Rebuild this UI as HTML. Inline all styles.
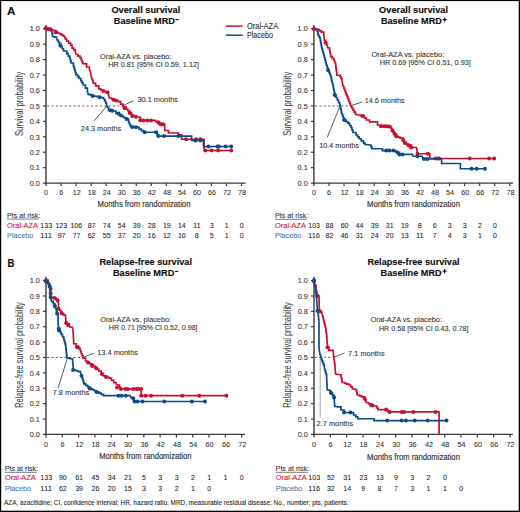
<!DOCTYPE html><html><head><meta charset="utf-8"><style>html,body{margin:0;padding:0;background:#fff;overflow:hidden}svg{display:block}text{font-family:"Liberation Sans",sans-serif}</style></head><body>
<svg width="520" height="512" viewBox="0 0 520 512">
<rect x="0" y="0" width="520" height="512" fill="#fff"/>
<text x="7.00" y="14.80" font-size="11" font-weight="bold" fill="#111" text-anchor="start" stroke="#111" stroke-width="0.15" textLength="8.40" lengthAdjust="spacingAndGlyphs">A</text>
<text x="7.60" y="266.70" font-size="11" font-weight="bold" fill="#111" text-anchor="start" stroke="#111" stroke-width="0.15" textLength="6.90" lengthAdjust="spacingAndGlyphs">B</text>
<text x="111.40" y="13.20" font-size="9.5" font-weight="bold" fill="#111" text-anchor="start" stroke="#111" stroke-width="0.15" textLength="68.90" lengthAdjust="spacingAndGlyphs">Overall survival</text>
<text x="113.85" y="24.40" font-size="9.5" font-weight="bold" fill="#111" text-anchor="start" stroke="#111" stroke-width="0.15" textLength="61.00" lengthAdjust="spacingAndGlyphs">Baseline MRD</text>
<rect x="175.40" y="19.05" width="3.2" height="1.1" fill="#111"/>
<text x="379.10" y="13.20" font-size="9.5" font-weight="bold" fill="#111" text-anchor="start" stroke="#111" stroke-width="0.15" textLength="68.90" lengthAdjust="spacingAndGlyphs">Overall survival</text>
<text x="380.90" y="24.20" font-size="9.5" font-weight="bold" fill="#111" text-anchor="start" stroke="#111" stroke-width="0.15" textLength="61.00" lengthAdjust="spacingAndGlyphs">Baseline MRD</text>
<rect x="442.60" y="19.00" width="4" height="1.2" fill="#111"/>
<rect x="444.00" y="17.50" width="1.2" height="4.2" fill="#111"/>
<text x="99.40" y="264.90" font-size="9.5" font-weight="bold" fill="#111" text-anchor="start" stroke="#111" stroke-width="0.15" textLength="92.60" lengthAdjust="spacingAndGlyphs">Relapse-free survival</text>
<text x="112.90" y="275.90" font-size="9.5" font-weight="bold" fill="#111" text-anchor="start" stroke="#111" stroke-width="0.15" textLength="61.40" lengthAdjust="spacingAndGlyphs">Baseline MRD</text>
<rect x="175.10" y="270.85" width="3.2" height="1.1" fill="#111"/>
<text x="367.40" y="264.90" font-size="9.5" font-weight="bold" fill="#111" text-anchor="start" stroke="#111" stroke-width="0.15" textLength="92.20" lengthAdjust="spacingAndGlyphs">Relapse-free survival</text>
<text x="380.60" y="275.90" font-size="9.5" font-weight="bold" fill="#111" text-anchor="start" stroke="#111" stroke-width="0.15" textLength="61.10" lengthAdjust="spacingAndGlyphs">Baseline MRD</text>
<rect x="442.60" y="270.60" width="4" height="1.2" fill="#111"/>
<rect x="444.00" y="269.10" width="1.2" height="4.2" fill="#111"/>
<line x1="225.7" y1="26.1" x2="242.6" y2="26.1" stroke="#c8112f" stroke-width="1.5"/>
<line x1="225.7" y1="35.2" x2="242.6" y2="35.2" stroke="#0b4b89" stroke-width="1.5"/>
<text x="246.90" y="28.60" font-size="8.2" font-weight="normal" fill="#333" text-anchor="start" stroke="#333" stroke-width="0.1" textLength="31.30" lengthAdjust="spacingAndGlyphs">Oral-AZA</text>
<text x="246.90" y="37.80" font-size="8.2" font-weight="normal" fill="#333" text-anchor="start" stroke="#333" stroke-width="0.1" textLength="26.10" lengthAdjust="spacingAndGlyphs">Placebo</text>
<line x1="46.0" y1="25.0" x2="46.0" y2="183.79999999999998" stroke="#3a3a3a" stroke-width="1.4"/>
<line x1="45.3" y1="183.1" x2="245.6" y2="183.1" stroke="#3a3a3a" stroke-width="1.4"/>
<line x1="43.0" y1="183.10" x2="46.0" y2="183.10" stroke="#3a3a3a" stroke-width="1.2"/>
<text x="39.80" y="185.80" font-size="8.1" font-weight="normal" fill="#2b2b2b" text-anchor="end" stroke="#2b2b2b" stroke-width="0.06" textLength="10.10" lengthAdjust="spacingAndGlyphs">0.0</text>
<line x1="43.0" y1="167.66" x2="46.0" y2="167.66" stroke="#3a3a3a" stroke-width="1.2"/>
<text x="39.80" y="170.36" font-size="8.1" font-weight="normal" fill="#2b2b2b" text-anchor="end" stroke="#2b2b2b" stroke-width="0.06" textLength="10.10" lengthAdjust="spacingAndGlyphs">0.1</text>
<line x1="43.0" y1="152.23" x2="46.0" y2="152.23" stroke="#3a3a3a" stroke-width="1.2"/>
<text x="39.80" y="154.93" font-size="8.1" font-weight="normal" fill="#2b2b2b" text-anchor="end" stroke="#2b2b2b" stroke-width="0.06" textLength="10.10" lengthAdjust="spacingAndGlyphs">0.2</text>
<line x1="43.0" y1="136.80" x2="46.0" y2="136.80" stroke="#3a3a3a" stroke-width="1.2"/>
<text x="39.80" y="139.50" font-size="8.1" font-weight="normal" fill="#2b2b2b" text-anchor="end" stroke="#2b2b2b" stroke-width="0.06" textLength="10.10" lengthAdjust="spacingAndGlyphs">0.3</text>
<line x1="43.0" y1="121.36" x2="46.0" y2="121.36" stroke="#3a3a3a" stroke-width="1.2"/>
<text x="39.80" y="124.06" font-size="8.1" font-weight="normal" fill="#2b2b2b" text-anchor="end" stroke="#2b2b2b" stroke-width="0.06" textLength="10.10" lengthAdjust="spacingAndGlyphs">0.4</text>
<line x1="43.0" y1="105.92" x2="46.0" y2="105.92" stroke="#3a3a3a" stroke-width="1.2"/>
<text x="39.80" y="108.62" font-size="8.1" font-weight="normal" fill="#2b2b2b" text-anchor="end" stroke="#2b2b2b" stroke-width="0.06" textLength="10.10" lengthAdjust="spacingAndGlyphs">0.5</text>
<line x1="43.0" y1="90.49" x2="46.0" y2="90.49" stroke="#3a3a3a" stroke-width="1.2"/>
<text x="39.80" y="93.19" font-size="8.1" font-weight="normal" fill="#2b2b2b" text-anchor="end" stroke="#2b2b2b" stroke-width="0.06" textLength="10.10" lengthAdjust="spacingAndGlyphs">0.6</text>
<line x1="43.0" y1="75.06" x2="46.0" y2="75.06" stroke="#3a3a3a" stroke-width="1.2"/>
<text x="39.80" y="77.76" font-size="8.1" font-weight="normal" fill="#2b2b2b" text-anchor="end" stroke="#2b2b2b" stroke-width="0.06" textLength="10.10" lengthAdjust="spacingAndGlyphs">0.7</text>
<line x1="43.0" y1="59.62" x2="46.0" y2="59.62" stroke="#3a3a3a" stroke-width="1.2"/>
<text x="39.80" y="62.32" font-size="8.1" font-weight="normal" fill="#2b2b2b" text-anchor="end" stroke="#2b2b2b" stroke-width="0.06" textLength="10.10" lengthAdjust="spacingAndGlyphs">0.8</text>
<line x1="43.0" y1="44.19" x2="46.0" y2="44.19" stroke="#3a3a3a" stroke-width="1.2"/>
<text x="39.80" y="46.89" font-size="8.1" font-weight="normal" fill="#2b2b2b" text-anchor="end" stroke="#2b2b2b" stroke-width="0.06" textLength="10.10" lengthAdjust="spacingAndGlyphs">0.9</text>
<line x1="43.0" y1="28.75" x2="46.0" y2="28.75" stroke="#3a3a3a" stroke-width="1.2"/>
<text x="39.80" y="31.45" font-size="8.1" font-weight="normal" fill="#2b2b2b" text-anchor="end" stroke="#2b2b2b" stroke-width="0.06" textLength="10.10" lengthAdjust="spacingAndGlyphs">1.0</text>
<line x1="46.00" y1="183.1" x2="46.00" y2="186.1" stroke="#3a3a3a" stroke-width="1.2"/>
<line x1="61.04" y1="183.1" x2="61.04" y2="186.1" stroke="#3a3a3a" stroke-width="1.2"/>
<line x1="76.08" y1="183.1" x2="76.08" y2="186.1" stroke="#3a3a3a" stroke-width="1.2"/>
<line x1="91.12" y1="183.1" x2="91.12" y2="186.1" stroke="#3a3a3a" stroke-width="1.2"/>
<line x1="106.15" y1="183.1" x2="106.15" y2="186.1" stroke="#3a3a3a" stroke-width="1.2"/>
<line x1="121.19" y1="183.1" x2="121.19" y2="186.1" stroke="#3a3a3a" stroke-width="1.2"/>
<line x1="136.23" y1="183.1" x2="136.23" y2="186.1" stroke="#3a3a3a" stroke-width="1.2"/>
<line x1="151.27" y1="183.1" x2="151.27" y2="186.1" stroke="#3a3a3a" stroke-width="1.2"/>
<line x1="166.31" y1="183.1" x2="166.31" y2="186.1" stroke="#3a3a3a" stroke-width="1.2"/>
<line x1="181.35" y1="183.1" x2="181.35" y2="186.1" stroke="#3a3a3a" stroke-width="1.2"/>
<line x1="196.38" y1="183.1" x2="196.38" y2="186.1" stroke="#3a3a3a" stroke-width="1.2"/>
<line x1="211.42" y1="183.1" x2="211.42" y2="186.1" stroke="#3a3a3a" stroke-width="1.2"/>
<line x1="226.46" y1="183.1" x2="226.46" y2="186.1" stroke="#3a3a3a" stroke-width="1.2"/>
<line x1="241.50" y1="183.1" x2="241.50" y2="186.1" stroke="#3a3a3a" stroke-width="1.2"/>
<line x1="313.9" y1="25.0" x2="313.9" y2="183.79999999999998" stroke="#3a3a3a" stroke-width="1.4"/>
<line x1="313.2" y1="183.1" x2="512.9" y2="183.1" stroke="#3a3a3a" stroke-width="1.4"/>
<line x1="310.9" y1="183.10" x2="313.9" y2="183.10" stroke="#3a3a3a" stroke-width="1.2"/>
<text x="307.70" y="185.80" font-size="8.1" font-weight="normal" fill="#2b2b2b" text-anchor="end" stroke="#2b2b2b" stroke-width="0.06" textLength="10.10" lengthAdjust="spacingAndGlyphs">0.0</text>
<line x1="310.9" y1="167.66" x2="313.9" y2="167.66" stroke="#3a3a3a" stroke-width="1.2"/>
<text x="307.70" y="170.36" font-size="8.1" font-weight="normal" fill="#2b2b2b" text-anchor="end" stroke="#2b2b2b" stroke-width="0.06" textLength="10.10" lengthAdjust="spacingAndGlyphs">0.1</text>
<line x1="310.9" y1="152.23" x2="313.9" y2="152.23" stroke="#3a3a3a" stroke-width="1.2"/>
<text x="307.70" y="154.93" font-size="8.1" font-weight="normal" fill="#2b2b2b" text-anchor="end" stroke="#2b2b2b" stroke-width="0.06" textLength="10.10" lengthAdjust="spacingAndGlyphs">0.2</text>
<line x1="310.9" y1="136.80" x2="313.9" y2="136.80" stroke="#3a3a3a" stroke-width="1.2"/>
<text x="307.70" y="139.50" font-size="8.1" font-weight="normal" fill="#2b2b2b" text-anchor="end" stroke="#2b2b2b" stroke-width="0.06" textLength="10.10" lengthAdjust="spacingAndGlyphs">0.3</text>
<line x1="310.9" y1="121.36" x2="313.9" y2="121.36" stroke="#3a3a3a" stroke-width="1.2"/>
<text x="307.70" y="124.06" font-size="8.1" font-weight="normal" fill="#2b2b2b" text-anchor="end" stroke="#2b2b2b" stroke-width="0.06" textLength="10.10" lengthAdjust="spacingAndGlyphs">0.4</text>
<line x1="310.9" y1="105.92" x2="313.9" y2="105.92" stroke="#3a3a3a" stroke-width="1.2"/>
<text x="307.70" y="108.62" font-size="8.1" font-weight="normal" fill="#2b2b2b" text-anchor="end" stroke="#2b2b2b" stroke-width="0.06" textLength="10.10" lengthAdjust="spacingAndGlyphs">0.5</text>
<line x1="310.9" y1="90.49" x2="313.9" y2="90.49" stroke="#3a3a3a" stroke-width="1.2"/>
<text x="307.70" y="93.19" font-size="8.1" font-weight="normal" fill="#2b2b2b" text-anchor="end" stroke="#2b2b2b" stroke-width="0.06" textLength="10.10" lengthAdjust="spacingAndGlyphs">0.6</text>
<line x1="310.9" y1="75.06" x2="313.9" y2="75.06" stroke="#3a3a3a" stroke-width="1.2"/>
<text x="307.70" y="77.76" font-size="8.1" font-weight="normal" fill="#2b2b2b" text-anchor="end" stroke="#2b2b2b" stroke-width="0.06" textLength="10.10" lengthAdjust="spacingAndGlyphs">0.7</text>
<line x1="310.9" y1="59.62" x2="313.9" y2="59.62" stroke="#3a3a3a" stroke-width="1.2"/>
<text x="307.70" y="62.32" font-size="8.1" font-weight="normal" fill="#2b2b2b" text-anchor="end" stroke="#2b2b2b" stroke-width="0.06" textLength="10.10" lengthAdjust="spacingAndGlyphs">0.8</text>
<line x1="310.9" y1="44.19" x2="313.9" y2="44.19" stroke="#3a3a3a" stroke-width="1.2"/>
<text x="307.70" y="46.89" font-size="8.1" font-weight="normal" fill="#2b2b2b" text-anchor="end" stroke="#2b2b2b" stroke-width="0.06" textLength="10.10" lengthAdjust="spacingAndGlyphs">0.9</text>
<line x1="310.9" y1="28.75" x2="313.9" y2="28.75" stroke="#3a3a3a" stroke-width="1.2"/>
<text x="307.70" y="31.45" font-size="8.1" font-weight="normal" fill="#2b2b2b" text-anchor="end" stroke="#2b2b2b" stroke-width="0.06" textLength="10.10" lengthAdjust="spacingAndGlyphs">1.0</text>
<line x1="313.90" y1="183.1" x2="313.90" y2="186.1" stroke="#3a3a3a" stroke-width="1.2"/>
<line x1="328.97" y1="183.1" x2="328.97" y2="186.1" stroke="#3a3a3a" stroke-width="1.2"/>
<line x1="344.04" y1="183.1" x2="344.04" y2="186.1" stroke="#3a3a3a" stroke-width="1.2"/>
<line x1="359.11" y1="183.1" x2="359.11" y2="186.1" stroke="#3a3a3a" stroke-width="1.2"/>
<line x1="374.18" y1="183.1" x2="374.18" y2="186.1" stroke="#3a3a3a" stroke-width="1.2"/>
<line x1="389.25" y1="183.1" x2="389.25" y2="186.1" stroke="#3a3a3a" stroke-width="1.2"/>
<line x1="404.32" y1="183.1" x2="404.32" y2="186.1" stroke="#3a3a3a" stroke-width="1.2"/>
<line x1="419.38" y1="183.1" x2="419.38" y2="186.1" stroke="#3a3a3a" stroke-width="1.2"/>
<line x1="434.45" y1="183.1" x2="434.45" y2="186.1" stroke="#3a3a3a" stroke-width="1.2"/>
<line x1="449.52" y1="183.1" x2="449.52" y2="186.1" stroke="#3a3a3a" stroke-width="1.2"/>
<line x1="464.59" y1="183.1" x2="464.59" y2="186.1" stroke="#3a3a3a" stroke-width="1.2"/>
<line x1="479.66" y1="183.1" x2="479.66" y2="186.1" stroke="#3a3a3a" stroke-width="1.2"/>
<line x1="494.73" y1="183.1" x2="494.73" y2="186.1" stroke="#3a3a3a" stroke-width="1.2"/>
<line x1="509.80" y1="183.1" x2="509.80" y2="186.1" stroke="#3a3a3a" stroke-width="1.2"/>
<line x1="46.0" y1="276.8" x2="46.0" y2="435.09999999999997" stroke="#3a3a3a" stroke-width="1.4"/>
<line x1="45.3" y1="434.4" x2="245.0" y2="434.4" stroke="#3a3a3a" stroke-width="1.4"/>
<line x1="43.0" y1="434.40" x2="46.0" y2="434.40" stroke="#3a3a3a" stroke-width="1.2"/>
<text x="39.80" y="437.10" font-size="8.1" font-weight="normal" fill="#2b2b2b" text-anchor="end" stroke="#2b2b2b" stroke-width="0.06" textLength="10.10" lengthAdjust="spacingAndGlyphs">0.0</text>
<line x1="43.0" y1="419.02" x2="46.0" y2="419.02" stroke="#3a3a3a" stroke-width="1.2"/>
<text x="39.80" y="421.72" font-size="8.1" font-weight="normal" fill="#2b2b2b" text-anchor="end" stroke="#2b2b2b" stroke-width="0.06" textLength="10.10" lengthAdjust="spacingAndGlyphs">0.1</text>
<line x1="43.0" y1="403.64" x2="46.0" y2="403.64" stroke="#3a3a3a" stroke-width="1.2"/>
<text x="39.80" y="406.34" font-size="8.1" font-weight="normal" fill="#2b2b2b" text-anchor="end" stroke="#2b2b2b" stroke-width="0.06" textLength="10.10" lengthAdjust="spacingAndGlyphs">0.2</text>
<line x1="43.0" y1="388.26" x2="46.0" y2="388.26" stroke="#3a3a3a" stroke-width="1.2"/>
<text x="39.80" y="390.96" font-size="8.1" font-weight="normal" fill="#2b2b2b" text-anchor="end" stroke="#2b2b2b" stroke-width="0.06" textLength="10.10" lengthAdjust="spacingAndGlyphs">0.3</text>
<line x1="43.0" y1="372.88" x2="46.0" y2="372.88" stroke="#3a3a3a" stroke-width="1.2"/>
<text x="39.80" y="375.58" font-size="8.1" font-weight="normal" fill="#2b2b2b" text-anchor="end" stroke="#2b2b2b" stroke-width="0.06" textLength="10.10" lengthAdjust="spacingAndGlyphs">0.4</text>
<line x1="43.0" y1="357.50" x2="46.0" y2="357.50" stroke="#3a3a3a" stroke-width="1.2"/>
<text x="39.80" y="360.20" font-size="8.1" font-weight="normal" fill="#2b2b2b" text-anchor="end" stroke="#2b2b2b" stroke-width="0.06" textLength="10.10" lengthAdjust="spacingAndGlyphs">0.5</text>
<line x1="43.0" y1="342.12" x2="46.0" y2="342.12" stroke="#3a3a3a" stroke-width="1.2"/>
<text x="39.80" y="344.82" font-size="8.1" font-weight="normal" fill="#2b2b2b" text-anchor="end" stroke="#2b2b2b" stroke-width="0.06" textLength="10.10" lengthAdjust="spacingAndGlyphs">0.6</text>
<line x1="43.0" y1="326.74" x2="46.0" y2="326.74" stroke="#3a3a3a" stroke-width="1.2"/>
<text x="39.80" y="329.44" font-size="8.1" font-weight="normal" fill="#2b2b2b" text-anchor="end" stroke="#2b2b2b" stroke-width="0.06" textLength="10.10" lengthAdjust="spacingAndGlyphs">0.7</text>
<line x1="43.0" y1="311.36" x2="46.0" y2="311.36" stroke="#3a3a3a" stroke-width="1.2"/>
<text x="39.80" y="314.06" font-size="8.1" font-weight="normal" fill="#2b2b2b" text-anchor="end" stroke="#2b2b2b" stroke-width="0.06" textLength="10.10" lengthAdjust="spacingAndGlyphs">0.8</text>
<line x1="43.0" y1="295.98" x2="46.0" y2="295.98" stroke="#3a3a3a" stroke-width="1.2"/>
<text x="39.80" y="298.68" font-size="8.1" font-weight="normal" fill="#2b2b2b" text-anchor="end" stroke="#2b2b2b" stroke-width="0.06" textLength="10.10" lengthAdjust="spacingAndGlyphs">0.9</text>
<line x1="43.0" y1="280.60" x2="46.0" y2="280.60" stroke="#3a3a3a" stroke-width="1.2"/>
<text x="39.80" y="283.30" font-size="8.1" font-weight="normal" fill="#2b2b2b" text-anchor="end" stroke="#2b2b2b" stroke-width="0.06" textLength="10.10" lengthAdjust="spacingAndGlyphs">1.0</text>
<line x1="46.00" y1="434.4" x2="46.00" y2="437.4" stroke="#3a3a3a" stroke-width="1.2"/>
<line x1="62.30" y1="434.4" x2="62.30" y2="437.4" stroke="#3a3a3a" stroke-width="1.2"/>
<line x1="78.60" y1="434.4" x2="78.60" y2="437.4" stroke="#3a3a3a" stroke-width="1.2"/>
<line x1="94.90" y1="434.4" x2="94.90" y2="437.4" stroke="#3a3a3a" stroke-width="1.2"/>
<line x1="111.20" y1="434.4" x2="111.20" y2="437.4" stroke="#3a3a3a" stroke-width="1.2"/>
<line x1="127.50" y1="434.4" x2="127.50" y2="437.4" stroke="#3a3a3a" stroke-width="1.2"/>
<line x1="143.80" y1="434.4" x2="143.80" y2="437.4" stroke="#3a3a3a" stroke-width="1.2"/>
<line x1="160.10" y1="434.4" x2="160.10" y2="437.4" stroke="#3a3a3a" stroke-width="1.2"/>
<line x1="176.40" y1="434.4" x2="176.40" y2="437.4" stroke="#3a3a3a" stroke-width="1.2"/>
<line x1="192.70" y1="434.4" x2="192.70" y2="437.4" stroke="#3a3a3a" stroke-width="1.2"/>
<line x1="209.00" y1="434.4" x2="209.00" y2="437.4" stroke="#3a3a3a" stroke-width="1.2"/>
<line x1="225.30" y1="434.4" x2="225.30" y2="437.4" stroke="#3a3a3a" stroke-width="1.2"/>
<line x1="241.60" y1="434.4" x2="241.60" y2="437.4" stroke="#3a3a3a" stroke-width="1.2"/>
<line x1="314.0" y1="276.8" x2="314.0" y2="435.09999999999997" stroke="#3a3a3a" stroke-width="1.4"/>
<line x1="313.3" y1="434.4" x2="512.9" y2="434.4" stroke="#3a3a3a" stroke-width="1.4"/>
<line x1="311.0" y1="434.40" x2="314.0" y2="434.40" stroke="#3a3a3a" stroke-width="1.2"/>
<text x="307.80" y="437.10" font-size="8.1" font-weight="normal" fill="#2b2b2b" text-anchor="end" stroke="#2b2b2b" stroke-width="0.06" textLength="10.10" lengthAdjust="spacingAndGlyphs">0.0</text>
<line x1="311.0" y1="419.02" x2="314.0" y2="419.02" stroke="#3a3a3a" stroke-width="1.2"/>
<text x="307.80" y="421.72" font-size="8.1" font-weight="normal" fill="#2b2b2b" text-anchor="end" stroke="#2b2b2b" stroke-width="0.06" textLength="10.10" lengthAdjust="spacingAndGlyphs">0.1</text>
<line x1="311.0" y1="403.64" x2="314.0" y2="403.64" stroke="#3a3a3a" stroke-width="1.2"/>
<text x="307.80" y="406.34" font-size="8.1" font-weight="normal" fill="#2b2b2b" text-anchor="end" stroke="#2b2b2b" stroke-width="0.06" textLength="10.10" lengthAdjust="spacingAndGlyphs">0.2</text>
<line x1="311.0" y1="388.26" x2="314.0" y2="388.26" stroke="#3a3a3a" stroke-width="1.2"/>
<text x="307.80" y="390.96" font-size="8.1" font-weight="normal" fill="#2b2b2b" text-anchor="end" stroke="#2b2b2b" stroke-width="0.06" textLength="10.10" lengthAdjust="spacingAndGlyphs">0.3</text>
<line x1="311.0" y1="372.88" x2="314.0" y2="372.88" stroke="#3a3a3a" stroke-width="1.2"/>
<text x="307.80" y="375.58" font-size="8.1" font-weight="normal" fill="#2b2b2b" text-anchor="end" stroke="#2b2b2b" stroke-width="0.06" textLength="10.10" lengthAdjust="spacingAndGlyphs">0.4</text>
<line x1="311.0" y1="357.50" x2="314.0" y2="357.50" stroke="#3a3a3a" stroke-width="1.2"/>
<text x="307.80" y="360.20" font-size="8.1" font-weight="normal" fill="#2b2b2b" text-anchor="end" stroke="#2b2b2b" stroke-width="0.06" textLength="10.10" lengthAdjust="spacingAndGlyphs">0.5</text>
<line x1="311.0" y1="342.12" x2="314.0" y2="342.12" stroke="#3a3a3a" stroke-width="1.2"/>
<text x="307.80" y="344.82" font-size="8.1" font-weight="normal" fill="#2b2b2b" text-anchor="end" stroke="#2b2b2b" stroke-width="0.06" textLength="10.10" lengthAdjust="spacingAndGlyphs">0.6</text>
<line x1="311.0" y1="326.74" x2="314.0" y2="326.74" stroke="#3a3a3a" stroke-width="1.2"/>
<text x="307.80" y="329.44" font-size="8.1" font-weight="normal" fill="#2b2b2b" text-anchor="end" stroke="#2b2b2b" stroke-width="0.06" textLength="10.10" lengthAdjust="spacingAndGlyphs">0.7</text>
<line x1="311.0" y1="311.36" x2="314.0" y2="311.36" stroke="#3a3a3a" stroke-width="1.2"/>
<text x="307.80" y="314.06" font-size="8.1" font-weight="normal" fill="#2b2b2b" text-anchor="end" stroke="#2b2b2b" stroke-width="0.06" textLength="10.10" lengthAdjust="spacingAndGlyphs">0.8</text>
<line x1="311.0" y1="295.98" x2="314.0" y2="295.98" stroke="#3a3a3a" stroke-width="1.2"/>
<text x="307.80" y="298.68" font-size="8.1" font-weight="normal" fill="#2b2b2b" text-anchor="end" stroke="#2b2b2b" stroke-width="0.06" textLength="10.10" lengthAdjust="spacingAndGlyphs">0.9</text>
<line x1="311.0" y1="280.60" x2="314.0" y2="280.60" stroke="#3a3a3a" stroke-width="1.2"/>
<text x="307.80" y="283.30" font-size="8.1" font-weight="normal" fill="#2b2b2b" text-anchor="end" stroke="#2b2b2b" stroke-width="0.06" textLength="10.10" lengthAdjust="spacingAndGlyphs">1.0</text>
<line x1="314.00" y1="434.4" x2="314.00" y2="437.4" stroke="#3a3a3a" stroke-width="1.2"/>
<line x1="330.33" y1="434.4" x2="330.33" y2="437.4" stroke="#3a3a3a" stroke-width="1.2"/>
<line x1="346.67" y1="434.4" x2="346.67" y2="437.4" stroke="#3a3a3a" stroke-width="1.2"/>
<line x1="363.00" y1="434.4" x2="363.00" y2="437.4" stroke="#3a3a3a" stroke-width="1.2"/>
<line x1="379.33" y1="434.4" x2="379.33" y2="437.4" stroke="#3a3a3a" stroke-width="1.2"/>
<line x1="395.67" y1="434.4" x2="395.67" y2="437.4" stroke="#3a3a3a" stroke-width="1.2"/>
<line x1="412.00" y1="434.4" x2="412.00" y2="437.4" stroke="#3a3a3a" stroke-width="1.2"/>
<line x1="428.33" y1="434.4" x2="428.33" y2="437.4" stroke="#3a3a3a" stroke-width="1.2"/>
<line x1="444.67" y1="434.4" x2="444.67" y2="437.4" stroke="#3a3a3a" stroke-width="1.2"/>
<line x1="461.00" y1="434.4" x2="461.00" y2="437.4" stroke="#3a3a3a" stroke-width="1.2"/>
<line x1="477.33" y1="434.4" x2="477.33" y2="437.4" stroke="#3a3a3a" stroke-width="1.2"/>
<line x1="493.67" y1="434.4" x2="493.67" y2="437.4" stroke="#3a3a3a" stroke-width="1.2"/>
<line x1="510.00" y1="434.4" x2="510.00" y2="437.4" stroke="#3a3a3a" stroke-width="1.2"/>
<text x="46.10" y="195.10" font-size="8.1" font-weight="normal" fill="#2b2b2b" text-anchor="middle" stroke="#2b2b2b" stroke-width="0.06" textLength="4.00" lengthAdjust="spacingAndGlyphs">0</text>
<text x="61.14" y="195.10" font-size="8.1" font-weight="normal" fill="#2b2b2b" text-anchor="middle" stroke="#2b2b2b" stroke-width="0.06" textLength="4.00" lengthAdjust="spacingAndGlyphs">6</text>
<text x="76.68" y="195.10" font-size="8.1" font-weight="normal" fill="#2b2b2b" text-anchor="middle" stroke="#2b2b2b" stroke-width="0.06" textLength="8.00" lengthAdjust="spacingAndGlyphs">12</text>
<text x="91.72" y="195.10" font-size="8.1" font-weight="normal" fill="#2b2b2b" text-anchor="middle" stroke="#2b2b2b" stroke-width="0.06" textLength="8.00" lengthAdjust="spacingAndGlyphs">18</text>
<text x="106.75" y="195.10" font-size="8.1" font-weight="normal" fill="#2b2b2b" text-anchor="middle" stroke="#2b2b2b" stroke-width="0.06" textLength="8.00" lengthAdjust="spacingAndGlyphs">24</text>
<text x="121.79" y="195.10" font-size="8.1" font-weight="normal" fill="#2b2b2b" text-anchor="middle" stroke="#2b2b2b" stroke-width="0.06" textLength="8.00" lengthAdjust="spacingAndGlyphs">30</text>
<text x="136.83" y="195.10" font-size="8.1" font-weight="normal" fill="#2b2b2b" text-anchor="middle" stroke="#2b2b2b" stroke-width="0.06" textLength="8.00" lengthAdjust="spacingAndGlyphs">36</text>
<text x="151.87" y="195.10" font-size="8.1" font-weight="normal" fill="#2b2b2b" text-anchor="middle" stroke="#2b2b2b" stroke-width="0.06" textLength="8.00" lengthAdjust="spacingAndGlyphs">42</text>
<text x="166.91" y="195.10" font-size="8.1" font-weight="normal" fill="#2b2b2b" text-anchor="middle" stroke="#2b2b2b" stroke-width="0.06" textLength="8.00" lengthAdjust="spacingAndGlyphs">48</text>
<text x="181.95" y="195.10" font-size="8.1" font-weight="normal" fill="#2b2b2b" text-anchor="middle" stroke="#2b2b2b" stroke-width="0.06" textLength="8.00" lengthAdjust="spacingAndGlyphs">54</text>
<text x="196.98" y="195.10" font-size="8.1" font-weight="normal" fill="#2b2b2b" text-anchor="middle" stroke="#2b2b2b" stroke-width="0.06" textLength="8.00" lengthAdjust="spacingAndGlyphs">60</text>
<text x="212.02" y="195.10" font-size="8.1" font-weight="normal" fill="#2b2b2b" text-anchor="middle" stroke="#2b2b2b" stroke-width="0.06" textLength="8.00" lengthAdjust="spacingAndGlyphs">66</text>
<text x="227.06" y="195.10" font-size="8.1" font-weight="normal" fill="#2b2b2b" text-anchor="middle" stroke="#2b2b2b" stroke-width="0.06" textLength="8.00" lengthAdjust="spacingAndGlyphs">72</text>
<text x="242.10" y="195.10" font-size="8.1" font-weight="normal" fill="#2b2b2b" text-anchor="middle" stroke="#2b2b2b" stroke-width="0.06" textLength="8.00" lengthAdjust="spacingAndGlyphs">78</text>
<text x="314.00" y="195.10" font-size="8.1" font-weight="normal" fill="#2b2b2b" text-anchor="middle" stroke="#2b2b2b" stroke-width="0.06" textLength="4.00" lengthAdjust="spacingAndGlyphs">0</text>
<text x="329.07" y="195.10" font-size="8.1" font-weight="normal" fill="#2b2b2b" text-anchor="middle" stroke="#2b2b2b" stroke-width="0.06" textLength="4.00" lengthAdjust="spacingAndGlyphs">6</text>
<text x="344.64" y="195.10" font-size="8.1" font-weight="normal" fill="#2b2b2b" text-anchor="middle" stroke="#2b2b2b" stroke-width="0.06" textLength="8.00" lengthAdjust="spacingAndGlyphs">12</text>
<text x="359.71" y="195.10" font-size="8.1" font-weight="normal" fill="#2b2b2b" text-anchor="middle" stroke="#2b2b2b" stroke-width="0.06" textLength="8.00" lengthAdjust="spacingAndGlyphs">18</text>
<text x="374.78" y="195.10" font-size="8.1" font-weight="normal" fill="#2b2b2b" text-anchor="middle" stroke="#2b2b2b" stroke-width="0.06" textLength="8.00" lengthAdjust="spacingAndGlyphs">24</text>
<text x="389.85" y="195.10" font-size="8.1" font-weight="normal" fill="#2b2b2b" text-anchor="middle" stroke="#2b2b2b" stroke-width="0.06" textLength="8.00" lengthAdjust="spacingAndGlyphs">30</text>
<text x="404.92" y="195.10" font-size="8.1" font-weight="normal" fill="#2b2b2b" text-anchor="middle" stroke="#2b2b2b" stroke-width="0.06" textLength="8.00" lengthAdjust="spacingAndGlyphs">36</text>
<text x="419.98" y="195.10" font-size="8.1" font-weight="normal" fill="#2b2b2b" text-anchor="middle" stroke="#2b2b2b" stroke-width="0.06" textLength="8.00" lengthAdjust="spacingAndGlyphs">42</text>
<text x="435.05" y="195.10" font-size="8.1" font-weight="normal" fill="#2b2b2b" text-anchor="middle" stroke="#2b2b2b" stroke-width="0.06" textLength="8.00" lengthAdjust="spacingAndGlyphs">48</text>
<text x="450.12" y="195.10" font-size="8.1" font-weight="normal" fill="#2b2b2b" text-anchor="middle" stroke="#2b2b2b" stroke-width="0.06" textLength="8.00" lengthAdjust="spacingAndGlyphs">54</text>
<text x="465.19" y="195.10" font-size="8.1" font-weight="normal" fill="#2b2b2b" text-anchor="middle" stroke="#2b2b2b" stroke-width="0.06" textLength="8.00" lengthAdjust="spacingAndGlyphs">60</text>
<text x="480.26" y="195.10" font-size="8.1" font-weight="normal" fill="#2b2b2b" text-anchor="middle" stroke="#2b2b2b" stroke-width="0.06" textLength="8.00" lengthAdjust="spacingAndGlyphs">66</text>
<text x="495.33" y="195.10" font-size="8.1" font-weight="normal" fill="#2b2b2b" text-anchor="middle" stroke="#2b2b2b" stroke-width="0.06" textLength="8.00" lengthAdjust="spacingAndGlyphs">72</text>
<text x="510.40" y="195.10" font-size="8.1" font-weight="normal" fill="#2b2b2b" text-anchor="middle" stroke="#2b2b2b" stroke-width="0.06" textLength="8.00" lengthAdjust="spacingAndGlyphs">78</text>
<text x="46.10" y="446.70" font-size="8.1" font-weight="normal" fill="#2b2b2b" text-anchor="middle" stroke="#2b2b2b" stroke-width="0.06" textLength="4.00" lengthAdjust="spacingAndGlyphs">0</text>
<text x="62.40" y="446.70" font-size="8.1" font-weight="normal" fill="#2b2b2b" text-anchor="middle" stroke="#2b2b2b" stroke-width="0.06" textLength="4.00" lengthAdjust="spacingAndGlyphs">6</text>
<text x="79.20" y="446.70" font-size="8.1" font-weight="normal" fill="#2b2b2b" text-anchor="middle" stroke="#2b2b2b" stroke-width="0.06" textLength="8.00" lengthAdjust="spacingAndGlyphs">12</text>
<text x="95.50" y="446.70" font-size="8.1" font-weight="normal" fill="#2b2b2b" text-anchor="middle" stroke="#2b2b2b" stroke-width="0.06" textLength="8.00" lengthAdjust="spacingAndGlyphs">18</text>
<text x="111.80" y="446.70" font-size="8.1" font-weight="normal" fill="#2b2b2b" text-anchor="middle" stroke="#2b2b2b" stroke-width="0.06" textLength="8.00" lengthAdjust="spacingAndGlyphs">24</text>
<text x="128.10" y="446.70" font-size="8.1" font-weight="normal" fill="#2b2b2b" text-anchor="middle" stroke="#2b2b2b" stroke-width="0.06" textLength="8.00" lengthAdjust="spacingAndGlyphs">30</text>
<text x="144.40" y="446.70" font-size="8.1" font-weight="normal" fill="#2b2b2b" text-anchor="middle" stroke="#2b2b2b" stroke-width="0.06" textLength="8.00" lengthAdjust="spacingAndGlyphs">36</text>
<text x="160.70" y="446.70" font-size="8.1" font-weight="normal" fill="#2b2b2b" text-anchor="middle" stroke="#2b2b2b" stroke-width="0.06" textLength="8.00" lengthAdjust="spacingAndGlyphs">42</text>
<text x="177.00" y="446.70" font-size="8.1" font-weight="normal" fill="#2b2b2b" text-anchor="middle" stroke="#2b2b2b" stroke-width="0.06" textLength="8.00" lengthAdjust="spacingAndGlyphs">48</text>
<text x="193.30" y="446.70" font-size="8.1" font-weight="normal" fill="#2b2b2b" text-anchor="middle" stroke="#2b2b2b" stroke-width="0.06" textLength="8.00" lengthAdjust="spacingAndGlyphs">54</text>
<text x="209.60" y="446.70" font-size="8.1" font-weight="normal" fill="#2b2b2b" text-anchor="middle" stroke="#2b2b2b" stroke-width="0.06" textLength="8.00" lengthAdjust="spacingAndGlyphs">60</text>
<text x="225.90" y="446.70" font-size="8.1" font-weight="normal" fill="#2b2b2b" text-anchor="middle" stroke="#2b2b2b" stroke-width="0.06" textLength="8.00" lengthAdjust="spacingAndGlyphs">66</text>
<text x="242.20" y="446.70" font-size="8.1" font-weight="normal" fill="#2b2b2b" text-anchor="middle" stroke="#2b2b2b" stroke-width="0.06" textLength="8.00" lengthAdjust="spacingAndGlyphs">72</text>
<text x="314.10" y="446.70" font-size="8.1" font-weight="normal" fill="#2b2b2b" text-anchor="middle" stroke="#2b2b2b" stroke-width="0.06" textLength="4.00" lengthAdjust="spacingAndGlyphs">0</text>
<text x="330.43" y="446.70" font-size="8.1" font-weight="normal" fill="#2b2b2b" text-anchor="middle" stroke="#2b2b2b" stroke-width="0.06" textLength="4.00" lengthAdjust="spacingAndGlyphs">6</text>
<text x="347.27" y="446.70" font-size="8.1" font-weight="normal" fill="#2b2b2b" text-anchor="middle" stroke="#2b2b2b" stroke-width="0.06" textLength="8.00" lengthAdjust="spacingAndGlyphs">12</text>
<text x="363.60" y="446.70" font-size="8.1" font-weight="normal" fill="#2b2b2b" text-anchor="middle" stroke="#2b2b2b" stroke-width="0.06" textLength="8.00" lengthAdjust="spacingAndGlyphs">18</text>
<text x="379.93" y="446.70" font-size="8.1" font-weight="normal" fill="#2b2b2b" text-anchor="middle" stroke="#2b2b2b" stroke-width="0.06" textLength="8.00" lengthAdjust="spacingAndGlyphs">24</text>
<text x="396.27" y="446.70" font-size="8.1" font-weight="normal" fill="#2b2b2b" text-anchor="middle" stroke="#2b2b2b" stroke-width="0.06" textLength="8.00" lengthAdjust="spacingAndGlyphs">30</text>
<text x="412.60" y="446.70" font-size="8.1" font-weight="normal" fill="#2b2b2b" text-anchor="middle" stroke="#2b2b2b" stroke-width="0.06" textLength="8.00" lengthAdjust="spacingAndGlyphs">36</text>
<text x="428.93" y="446.70" font-size="8.1" font-weight="normal" fill="#2b2b2b" text-anchor="middle" stroke="#2b2b2b" stroke-width="0.06" textLength="8.00" lengthAdjust="spacingAndGlyphs">42</text>
<text x="445.27" y="446.70" font-size="8.1" font-weight="normal" fill="#2b2b2b" text-anchor="middle" stroke="#2b2b2b" stroke-width="0.06" textLength="8.00" lengthAdjust="spacingAndGlyphs">48</text>
<text x="461.60" y="446.70" font-size="8.1" font-weight="normal" fill="#2b2b2b" text-anchor="middle" stroke="#2b2b2b" stroke-width="0.06" textLength="8.00" lengthAdjust="spacingAndGlyphs">54</text>
<text x="477.93" y="446.70" font-size="8.1" font-weight="normal" fill="#2b2b2b" text-anchor="middle" stroke="#2b2b2b" stroke-width="0.06" textLength="8.00" lengthAdjust="spacingAndGlyphs">60</text>
<text x="494.27" y="446.70" font-size="8.1" font-weight="normal" fill="#2b2b2b" text-anchor="middle" stroke="#2b2b2b" stroke-width="0.06" textLength="8.00" lengthAdjust="spacingAndGlyphs">66</text>
<text x="510.60" y="446.70" font-size="8.1" font-weight="normal" fill="#2b2b2b" text-anchor="middle" stroke="#2b2b2b" stroke-width="0.06" textLength="8.00" lengthAdjust="spacingAndGlyphs">72</text>
<text x="97.60" y="206.60" font-size="9.4" font-weight="normal" fill="#333" text-anchor="start" stroke="#333" stroke-width="0.18" textLength="92.80" lengthAdjust="spacingAndGlyphs">Months from randomization</text>
<text x="367.10" y="207.20" font-size="9.4" font-weight="normal" fill="#333" text-anchor="start" stroke="#333" stroke-width="0.18" textLength="92.80" lengthAdjust="spacingAndGlyphs">Months from randomization</text>
<text x="99.20" y="459.30" font-size="9.4" font-weight="normal" fill="#333" text-anchor="start" stroke="#333" stroke-width="0.18" textLength="92.30" lengthAdjust="spacingAndGlyphs">Months from randomization</text>
<text x="367.10" y="459.50" font-size="9.4" font-weight="normal" fill="#333" text-anchor="start" stroke="#333" stroke-width="0.18" textLength="92.80" lengthAdjust="spacingAndGlyphs">Months from randomization</text>
<text transform="translate(22.60,136.00) rotate(-90)" x="0" y="0" font-size="10.4" fill="#3a3a3a" textLength="64.40" lengthAdjust="spacingAndGlyphs">Survival probability</text>
<text transform="translate(290.60,135.80) rotate(-90)" x="0" y="0" font-size="10.4" fill="#3a3a3a" textLength="64.10" lengthAdjust="spacingAndGlyphs">Survival probability</text>
<text transform="translate(22.60,407.80) rotate(-90)" x="0" y="0" font-size="10.4" fill="#3a3a3a" textLength="105.60" lengthAdjust="spacingAndGlyphs">Relapse-free survival probability</text>
<text transform="translate(290.60,407.80) rotate(-90)" x="0" y="0" font-size="10.4" fill="#3a3a3a" textLength="105.60" lengthAdjust="spacingAndGlyphs">Relapse-free survival probability</text>
<text x="100.00" y="58.60" font-size="7.9" font-weight="normal" fill="#333" text-anchor="start" stroke="#333" stroke-width="0.1" textLength="71.40" lengthAdjust="spacingAndGlyphs">Oral-AZA vs. placebo:</text>
<text x="108.30" y="67.30" font-size="7.9" font-weight="normal" fill="#333" text-anchor="start" stroke="#333" stroke-width="0.1" textLength="90.70" lengthAdjust="spacingAndGlyphs">HR 0.81 [95% CI 0.59, 1.12]</text>
<text x="371.50" y="56.60" font-size="7.9" font-weight="normal" fill="#333" text-anchor="start" stroke="#333" stroke-width="0.1" textLength="72.80" lengthAdjust="spacingAndGlyphs">Oral-AZA vs. placebo:</text>
<text x="379.70" y="65.20" font-size="7.9" font-weight="normal" fill="#333" text-anchor="start" stroke="#333" stroke-width="0.1" textLength="91.10" lengthAdjust="spacingAndGlyphs">HR 0.69 [95% CI 0.51, 0.93]</text>
<text x="100.30" y="321.50" font-size="7.9" font-weight="normal" fill="#333" text-anchor="start" stroke="#333" stroke-width="0.1" textLength="70.70" lengthAdjust="spacingAndGlyphs">Oral-AZA vs. placebo:</text>
<text x="108.80" y="330.30" font-size="7.9" font-weight="normal" fill="#333" text-anchor="start" stroke="#333" stroke-width="0.1" textLength="88.80" lengthAdjust="spacingAndGlyphs">HR 0.71 [95% CI 0.52, 0.98]</text>
<text x="370.50" y="321.70" font-size="7.9" font-weight="normal" fill="#333" text-anchor="start" stroke="#333" stroke-width="0.1" textLength="71.50" lengthAdjust="spacingAndGlyphs">Oral-AZA vs. placebo:</text>
<text x="378.90" y="330.50" font-size="7.9" font-weight="normal" fill="#333" text-anchor="start" stroke="#333" stroke-width="0.1" textLength="89.60" lengthAdjust="spacingAndGlyphs">HR 0.58 [95% CI 0.43, 0.78]</text>
<line x1="47" y1="106.0" x2="122" y2="106.0" stroke="#555" stroke-width="0.9" stroke-dasharray="2.2,2.2"/>
<line x1="315" y1="106.0" x2="350.4" y2="106.0" stroke="#555" stroke-width="0.9" stroke-dasharray="2.2,2.2"/>
<line x1="47" y1="357.5" x2="83" y2="357.5" stroke="#555" stroke-width="0.9" stroke-dasharray="2.2,2.2"/>
<line x1="315" y1="357.3" x2="333.5" y2="357.3" stroke="#555" stroke-width="0.9" stroke-dasharray="2.2,2.2"/>
<line x1="122" y1="106" x2="133.5" y2="100.7" stroke="#333" stroke-width="0.8"/>
<line x1="106.9" y1="106" x2="94.2" y2="120.8" stroke="#333" stroke-width="0.8"/>
<line x1="350.4" y1="106" x2="362.2" y2="101.9" stroke="#333" stroke-width="0.8"/>
<line x1="340" y1="106" x2="327.3" y2="137.3" stroke="#333" stroke-width="0.8"/>
<line x1="82.7" y1="357.5" x2="93.7" y2="353.1" stroke="#333" stroke-width="0.8"/>
<line x1="67.5" y1="357.5" x2="58.0" y2="388.5" stroke="#333" stroke-width="0.8"/>
<line x1="333.5" y1="357.3" x2="344.4" y2="353.1" stroke="#333" stroke-width="0.8"/>
<line x1="320.2" y1="357.3" x2="320.2" y2="417.5" stroke="#8a8a8a" stroke-width="0.8"/>
<text x="137.40" y="102.30" font-size="7.9" font-weight="normal" fill="#333" text-anchor="start" stroke="#333" stroke-width="0.1" textLength="40.60" lengthAdjust="spacingAndGlyphs">30.1 months</text>
<text x="80.80" y="131.20" font-size="7.9" font-weight="normal" fill="#333" text-anchor="start" stroke="#333" stroke-width="0.1" textLength="40.40" lengthAdjust="spacingAndGlyphs">24.3 months</text>
<text x="364.70" y="103.20" font-size="7.9" font-weight="normal" fill="#333" text-anchor="start" stroke="#333" stroke-width="0.1" textLength="39.90" lengthAdjust="spacingAndGlyphs">14.6 months</text>
<text x="319.20" y="147.70" font-size="7.9" font-weight="normal" fill="#333" text-anchor="start" stroke="#333" stroke-width="0.1" textLength="40.00" lengthAdjust="spacingAndGlyphs">10.4 months</text>
<text x="97.20" y="355.40" font-size="7.9" font-weight="normal" fill="#333" text-anchor="start" stroke="#333" stroke-width="0.1" textLength="40.80" lengthAdjust="spacingAndGlyphs">13.4 months</text>
<text x="52.70" y="395.40" font-size="7.9" font-weight="normal" fill="#333" text-anchor="start" stroke="#333" stroke-width="0.1" textLength="36.50" lengthAdjust="spacingAndGlyphs">7.8 months</text>
<text x="348.10" y="356.00" font-size="7.9" font-weight="normal" fill="#333" text-anchor="start" stroke="#333" stroke-width="0.1" textLength="36.50" lengthAdjust="spacingAndGlyphs">7.1 months</text>
<text x="316.60" y="425.60" font-size="7.9" font-weight="normal" fill="#333" text-anchor="start" stroke="#333" stroke-width="0.1" textLength="36.50" lengthAdjust="spacingAndGlyphs">2.7 months</text>
<path d="M46.00,28.30 L51.80,29.50 L54.20,30.60 L55.70,30.60 L55.70,32.20 L57.65,32.20 L57.65,33.00 L59.60,33.00 L59.60,33.80 L61.55,33.80 L61.55,35.15 L63.50,35.15 L63.50,36.50 L65.10,36.50 L65.10,38.85 L66.70,38.85 L66.70,41.20 L68.65,41.20 L68.65,43.15 L70.60,43.15 L70.60,45.10 L72.10,45.10 L72.10,48.20 L73.67,48.20 L73.67,49.95 L75.25,49.95 L75.25,51.70 L76.00,54.50 L78.00,54.50 L78.00,56.05 L80.00,56.05 L80.00,57.60 L81.20,57.60 L81.20,60.00 L81.95,60.00 L81.95,61.75 L82.70,61.75 L82.70,63.50 L85.10,63.90 L86.60,63.90 L86.60,67.00 L89.40,67.00 L89.40,69.00 L90.50,71.70 L90.90,75.60 L92.10,79.50 L92.70,79.50 L92.70,81.45 L93.30,81.45 L93.30,83.40 L95.60,83.40 L95.60,85.80 L98.75,85.80 L98.75,88.90 L100.72,88.90 L100.72,89.90 L102.70,89.90 L102.70,90.90 L107.30,92.00 L108.50,92.00 L108.50,95.20 L109.40,98.00 L111.45,98.00 L111.45,98.88 L113.50,98.88 L113.50,99.75 L116.00,99.75 L116.00,100.67 L118.50,100.67 L118.50,101.60 L120.70,101.60 L120.70,104.10 L122.90,104.10 L122.90,106.60 L126.00,106.60 L126.00,109.10 L127.88,109.10 L127.88,111.00 L129.75,111.00 L129.75,112.90 L131.62,112.90 L131.62,114.75 L133.50,114.75 L133.50,116.60 L138.50,117.25 L140.40,117.25 L140.40,120.40 L153.50,120.40 L155.38,120.40 L155.38,121.33 L157.25,121.33 L157.25,122.25 L159.12,122.25 L159.12,123.25 L161.00,123.25 L161.00,124.25 L164.75,124.25 L164.75,130.50 L168.50,130.50 L168.50,133.00 L178.50,133.00 L178.50,134.90 L181.60,134.90 L181.60,139.25 L204.10,139.25 L204.10,150.50 L231.25,150.50" fill="none" stroke="#c8112f" stroke-width="1.7" stroke-linejoin="miter" stroke-linecap="butt"/>
<circle cx="46.00" cy="28.30" r="2.0" fill="#c8112f"/>
<circle cx="55.70" cy="32.20" r="2.0" fill="#c8112f"/>
<circle cx="103.50" cy="91.00" r="2.0" fill="#c8112f"/>
<circle cx="107.25" cy="92.25" r="2.0" fill="#c8112f"/>
<circle cx="113.50" cy="99.75" r="2.0" fill="#c8112f"/>
<circle cx="116.00" cy="100.40" r="2.0" fill="#c8112f"/>
<circle cx="124.75" cy="108.20" r="2.0" fill="#c8112f"/>
<circle cx="129.75" cy="112.90" r="2.0" fill="#c8112f"/>
<circle cx="132.25" cy="116.00" r="2.0" fill="#c8112f"/>
<circle cx="136.00" cy="116.80" r="2.0" fill="#c8112f"/>
<circle cx="140.40" cy="120.20" r="2.0" fill="#c8112f"/>
<circle cx="143.50" cy="120.40" r="2.0" fill="#c8112f"/>
<circle cx="147.25" cy="120.40" r="2.0" fill="#c8112f"/>
<circle cx="151.00" cy="120.40" r="2.0" fill="#c8112f"/>
<circle cx="158.50" cy="122.60" r="2.0" fill="#c8112f"/>
<circle cx="160.40" cy="124.25" r="2.0" fill="#c8112f"/>
<circle cx="162.90" cy="124.25" r="2.0" fill="#c8112f"/>
<circle cx="186.00" cy="139.25" r="2.0" fill="#c8112f"/>
<circle cx="196.00" cy="139.25" r="2.0" fill="#c8112f"/>
<circle cx="200.40" cy="139.25" r="2.0" fill="#c8112f"/>
<circle cx="205.40" cy="150.50" r="2.0" fill="#c8112f"/>
<circle cx="211.60" cy="150.50" r="2.0" fill="#c8112f"/>
<circle cx="218.10" cy="150.50" r="2.0" fill="#c8112f"/>
<circle cx="231.25" cy="150.50" r="2.0" fill="#c8112f"/>
<path d="M46.00,29.50 L48.70,29.50 L48.70,30.25 L51.40,30.25 L51.40,31.00 L52.00,31.00 L52.00,33.75 L52.60,33.75 L52.60,36.50 L54.55,36.50 L54.55,37.10 L56.50,37.10 L56.50,37.70 L57.30,40.40 L58.45,40.40 L58.45,42.35 L59.60,42.35 L59.60,44.30 L60.90,44.30 L60.90,46.53 L62.20,46.53 L62.20,48.77 L63.50,48.77 L63.50,51.00 L66.70,51.00 L66.70,53.70 L68.25,53.70 L68.25,56.05 L69.80,56.05 L69.80,58.40 L70.40,58.40 L70.40,60.70 L71.00,60.70 L71.00,63.00 L73.40,63.00 L73.40,66.00 L74.03,66.00 L74.03,68.19 L74.65,68.19 L74.65,70.38 L75.28,70.38 L75.28,72.56 L75.90,72.56 L75.90,74.75 L77.45,74.75 L77.45,76.62 L79.00,76.62 L79.00,78.50 L80.90,78.50 L80.90,81.00 L82.00,81.00 L82.00,83.00 L83.10,83.00 L83.10,85.00 L85.50,85.00 L85.50,88.10 L87.40,88.10 L87.40,91.25 L88.20,94.40 L90.35,94.40 L90.35,95.15 L92.50,95.15 L92.50,95.90 L96.40,96.30 L98.35,96.30 L98.35,96.90 L100.30,96.90 L100.30,97.50 L103.40,97.50 L103.40,99.00 L104.75,99.00 L104.75,101.00 L105.62,101.00 L105.62,102.88 L106.50,102.88 L106.50,104.75 L107.25,107.25 L108.50,107.25 L108.50,110.40 L112.90,111.00 L116.00,111.00 L116.00,113.50 L118.50,113.50 L118.50,114.75 L121.00,114.75 L121.00,116.00 L123.50,116.00 L123.50,117.55 L126.00,117.55 L126.00,119.10 L128.50,119.10 L128.50,122.25 L129.45,122.25 L129.45,124.42 L130.40,124.42 L130.40,126.60 L136.00,127.25 L139.10,127.25 L139.10,129.10 L141.30,129.10 L141.30,130.68 L143.50,130.68 L143.50,132.25 L156.00,132.25 L157.25,132.25 L157.25,135.40 L157.90,136.10 L191.60,136.10 L191.60,140.50 L203.50,140.50 L203.50,146.50 L231.25,146.50" fill="none" stroke="#0b4b89" stroke-width="1.7" stroke-linejoin="miter" stroke-linecap="butt"/>
<circle cx="60.40" cy="45.50" r="2.0" fill="#0b4b89"/>
<circle cx="92.75" cy="96.00" r="2.0" fill="#0b4b89"/>
<circle cx="99.60" cy="97.25" r="2.0" fill="#0b4b89"/>
<circle cx="110.40" cy="110.20" r="2.0" fill="#0b4b89"/>
<circle cx="112.25" cy="110.80" r="2.0" fill="#0b4b89"/>
<circle cx="118.50" cy="113.50" r="2.0" fill="#0b4b89"/>
<circle cx="121.00" cy="115.40" r="2.0" fill="#0b4b89"/>
<circle cx="126.60" cy="119.10" r="2.0" fill="#0b4b89"/>
<circle cx="132.25" cy="127.00" r="2.0" fill="#0b4b89"/>
<circle cx="136.00" cy="127.25" r="2.0" fill="#0b4b89"/>
<circle cx="144.75" cy="132.25" r="2.0" fill="#0b4b89"/>
<circle cx="156.00" cy="132.25" r="2.0" fill="#0b4b89"/>
<circle cx="158.30" cy="136.10" r="2.0" fill="#0b4b89"/>
<circle cx="164.00" cy="136.10" r="2.0" fill="#0b4b89"/>
<circle cx="178.50" cy="136.10" r="2.0" fill="#0b4b89"/>
<circle cx="195.40" cy="140.50" r="2.0" fill="#0b4b89"/>
<circle cx="200.40" cy="140.50" r="2.0" fill="#0b4b89"/>
<circle cx="208.50" cy="146.50" r="2.0" fill="#0b4b89"/>
<circle cx="217.50" cy="146.50" r="2.0" fill="#0b4b89"/>
<circle cx="218.75" cy="146.50" r="2.0" fill="#0b4b89"/>
<circle cx="225.60" cy="146.50" r="2.0" fill="#0b4b89"/>
<circle cx="231.25" cy="146.50" r="2.0" fill="#0b4b89"/>
<path d="M313.90,29.00 L317.50,29.60 L319.38,29.60 L319.38,30.85 L321.25,30.85 L321.25,32.10 L323.75,32.10 L323.75,35.25 L324.40,40.25 L325.60,40.25 L325.60,42.75 L326.55,42.75 L326.55,45.25 L327.50,45.25 L327.50,47.75 L329.40,47.75 L329.40,49.00 L329.80,49.00 L329.80,51.50 L330.20,51.50 L330.20,54.00 L330.60,54.00 L330.60,56.50 L332.18,56.50 L332.18,58.38 L333.75,58.38 L333.75,60.25 L334.68,60.25 L334.68,62.75 L335.60,62.75 L335.60,65.25 L335.86,65.25 L335.86,67.25 L336.12,67.25 L336.12,69.25 L336.38,69.25 L336.38,71.25 L336.64,71.25 L336.64,73.25 L336.90,73.25 L336.90,75.25 L340.00,75.25 L340.00,76.50 L340.95,76.50 L340.95,78.38 L341.90,78.38 L341.90,80.25 L343.00,86.25 L343.80,86.25 L343.80,88.33 L344.60,88.33 L344.60,90.42 L345.40,90.42 L345.40,92.50 L346.23,92.50 L346.23,94.58 L347.07,94.58 L347.07,96.67 L347.90,96.67 L347.90,98.75 L348.73,98.75 L348.73,101.03 L349.57,101.03 L349.57,103.32 L350.40,103.32 L350.40,105.60 L351.65,105.60 L351.65,107.80 L352.90,107.80 L352.90,110.00 L354.15,110.00 L354.15,112.20 L355.40,112.20 L355.40,114.40 L359.10,115.00 L362.50,115.60 L364.38,115.60 L364.38,117.80 L366.25,117.80 L366.25,120.00 L369.40,120.00 L369.40,121.90 L376.25,121.90 L377.50,121.90 L377.50,125.00 L380.60,125.00 L380.60,126.25 L390.00,126.25 L390.95,126.25 L390.95,128.12 L391.90,128.12 L391.90,130.00 L393.15,130.00 L393.15,131.88 L394.40,131.88 L394.40,133.75 L396.25,133.75 L396.25,136.25 L398.12,136.25 L398.12,137.18 L400.00,137.18 L400.00,138.10 L403.10,138.10 L403.10,140.00 L404.40,140.00 L404.40,142.50 L406.25,142.50 L406.25,143.75 L408.10,143.75 L408.10,145.00 L411.25,145.00 L411.25,147.50 L416.50,147.50 L417.50,153.75 L429.75,153.75 L429.75,158.50 L494.10,158.50" fill="none" stroke="#c8112f" stroke-width="1.7" stroke-linejoin="miter" stroke-linecap="butt"/>
<circle cx="313.90" cy="29.00" r="2.0" fill="#c8112f"/>
<circle cx="325.60" cy="42.75" r="2.0" fill="#c8112f"/>
<circle cx="362.25" cy="116.00" r="2.0" fill="#c8112f"/>
<circle cx="381.00" cy="126.25" r="2.0" fill="#c8112f"/>
<circle cx="384.00" cy="126.25" r="2.0" fill="#c8112f"/>
<circle cx="386.50" cy="126.25" r="2.0" fill="#c8112f"/>
<circle cx="389.00" cy="126.60" r="2.0" fill="#c8112f"/>
<circle cx="392.50" cy="130.50" r="2.0" fill="#c8112f"/>
<circle cx="394.40" cy="133.75" r="2.0" fill="#c8112f"/>
<circle cx="396.25" cy="136.25" r="2.0" fill="#c8112f"/>
<circle cx="403.10" cy="140.00" r="2.0" fill="#c8112f"/>
<circle cx="404.90" cy="143.00" r="2.0" fill="#c8112f"/>
<circle cx="408.10" cy="145.00" r="2.0" fill="#c8112f"/>
<circle cx="410.00" cy="146.00" r="2.0" fill="#c8112f"/>
<circle cx="411.25" cy="147.50" r="2.0" fill="#c8112f"/>
<circle cx="417.50" cy="153.75" r="2.0" fill="#c8112f"/>
<circle cx="427.90" cy="153.75" r="2.0" fill="#c8112f"/>
<circle cx="435.40" cy="158.50" r="2.0" fill="#c8112f"/>
<circle cx="437.90" cy="158.50" r="2.0" fill="#c8112f"/>
<circle cx="439.10" cy="158.50" r="2.0" fill="#c8112f"/>
<circle cx="469.75" cy="158.50" r="2.0" fill="#c8112f"/>
<circle cx="489.10" cy="158.50" r="2.0" fill="#c8112f"/>
<circle cx="494.10" cy="158.50" r="2.0" fill="#c8112f"/>
<path d="M313.90,29.00 L316.90,29.00 L317.30,29.00 L317.30,31.08 L317.70,31.08 L317.70,33.17 L318.10,33.17 L318.10,35.25 L319.05,35.25 L319.05,37.12 L320.00,37.12 L320.00,39.00 L320.38,39.00 L320.38,41.00 L320.76,41.00 L320.76,43.00 L321.14,43.00 L321.14,45.00 L321.52,45.00 L321.52,47.00 L321.90,47.00 L321.90,49.00 L322.52,49.00 L322.52,51.19 L323.15,51.19 L323.15,53.38 L323.77,53.38 L323.77,55.56 L324.40,55.56 L324.40,57.75 L325.02,57.75 L325.02,60.25 L325.63,60.25 L325.63,62.75 L326.25,62.75 L326.25,65.25 L327.18,65.25 L327.18,67.75 L328.10,67.75 L328.10,70.25 L328.93,70.25 L328.93,72.33 L329.77,72.33 L329.77,74.42 L330.60,74.42 L330.60,76.50 L331.10,76.50 L331.10,78.50 L331.60,78.50 L331.60,80.50 L332.10,80.50 L332.10,82.50 L332.60,82.50 L332.60,84.50 L333.10,84.50 L333.10,86.50 L333.51,86.50 L333.51,88.62 L333.93,88.62 L333.93,90.75 L334.34,90.75 L334.34,92.88 L334.75,92.88 L334.75,95.00 L336.00,95.00 L336.00,97.50 L337.25,97.50 L337.25,100.00 L338.50,100.00 L338.50,102.50 L339.75,102.50 L339.75,105.00 L340.21,105.00 L340.21,107.19 L340.68,107.19 L340.68,109.38 L341.14,109.38 L341.14,111.56 L341.60,111.56 L341.60,113.75 L342.43,113.75 L342.43,115.83 L343.27,115.83 L343.27,117.92 L344.10,117.92 L344.10,120.00 L346.00,120.00 L346.00,121.55 L347.90,121.55 L347.90,123.10 L349.45,123.10 L349.45,125.30 L351.00,125.30 L351.00,127.50 L351.95,127.50 L351.95,130.00 L352.90,130.00 L352.90,132.50 L356.00,132.50 L356.00,135.00 L357.55,135.00 L357.55,136.88 L359.10,136.88 L359.10,138.75 L361.30,138.75 L361.30,140.93 L363.50,140.93 L363.50,143.10 L365.00,143.10 L365.00,144.40 L370.00,145.00 L370.95,145.00 L370.95,146.88 L371.90,146.88 L371.90,148.75 L380.60,148.75 L382.50,148.75 L382.50,150.60 L393.50,150.60 L395.50,150.60 L395.50,151.55 L397.50,151.55 L397.50,152.50 L399.40,152.50 L399.40,154.40 L412.50,154.40 L413.10,156.25 L422.25,156.25 L422.90,159.00 L441.60,159.00 L441.60,163.50 L460.40,163.50 L460.40,168.75 L485.00,168.75" fill="none" stroke="#0b4b89" stroke-width="1.7" stroke-linejoin="miter" stroke-linecap="butt"/>
<circle cx="328.10" cy="70.25" r="2.0" fill="#0b4b89"/>
<circle cx="334.75" cy="95.00" r="2.0" fill="#0b4b89"/>
<circle cx="344.10" cy="120.00" r="2.0" fill="#0b4b89"/>
<circle cx="386.25" cy="150.60" r="2.0" fill="#0b4b89"/>
<circle cx="389.40" cy="150.60" r="2.0" fill="#0b4b89"/>
<circle cx="393.50" cy="150.60" r="2.0" fill="#0b4b89"/>
<circle cx="397.50" cy="152.50" r="2.0" fill="#0b4b89"/>
<circle cx="399.40" cy="154.40" r="2.0" fill="#0b4b89"/>
<circle cx="402.50" cy="154.40" r="2.0" fill="#0b4b89"/>
<circle cx="417.50" cy="156.25" r="2.0" fill="#0b4b89"/>
<circle cx="424.10" cy="159.00" r="2.0" fill="#0b4b89"/>
<circle cx="427.25" cy="159.00" r="2.0" fill="#0b4b89"/>
<circle cx="471.60" cy="168.75" r="2.0" fill="#0b4b89"/>
<circle cx="476.60" cy="168.75" r="2.0" fill="#0b4b89"/>
<circle cx="485.00" cy="168.75" r="2.0" fill="#0b4b89"/>
<path d="M46.00,280.20 L48.20,280.20 L48.20,283.00 L49.00,283.00 L49.00,285.03 L49.80,285.03 L49.80,287.07 L50.60,287.07 L50.60,289.10 L50.60,293.30 L51.00,297.60 L54.30,298.00 L55.95,298.00 L55.95,299.20 L57.60,299.20 L57.60,300.40 L58.50,304.10 L58.50,308.80 L59.40,310.00 L60.65,310.00 L60.65,311.88 L61.90,311.88 L61.90,313.75 L63.65,313.75 L63.65,315.02 L65.40,315.02 L65.40,316.30 L66.25,323.75 L69.40,323.75 L69.40,326.90 L72.50,327.50 L73.10,331.90 L73.75,343.75 L76.25,343.75 L76.25,346.25 L78.12,346.25 L78.12,348.12 L80.00,348.12 L80.00,350.00 L80.62,350.00 L80.62,351.88 L81.25,351.88 L81.25,353.75 L82.17,353.75 L82.17,355.93 L83.10,355.93 L83.10,358.10 L85.60,358.10 L85.60,361.25 L87.70,361.25 L87.70,362.50 L89.80,362.50 L89.80,363.75 L91.90,363.75 L91.90,365.00 L93.65,365.00 L93.65,366.35 L95.40,366.35 L95.40,367.70 L97.10,367.70 L97.10,369.45 L98.80,369.45 L98.80,371.20 L101.15,371.20 L101.15,373.50 L103.50,373.50 L103.50,375.80 L105.40,375.80 L105.40,376.57 L107.30,376.57 L107.30,377.33 L109.20,377.33 L109.20,378.10 L111.50,378.10 L111.50,380.40 L113.80,380.40 L113.80,382.70 L116.00,382.70 L116.00,384.00 L118.50,385.20 L119.40,385.20 L119.40,387.05 L120.30,387.05 L120.30,388.90 L141.20,388.90 L141.20,395.70 L226.30,395.70" fill="none" stroke="#c8112f" stroke-width="1.7" stroke-linejoin="miter" stroke-linecap="butt"/>
<circle cx="46.00" cy="280.20" r="2.0" fill="#c8112f"/>
<circle cx="50.60" cy="289.10" r="2.0" fill="#c8112f"/>
<circle cx="50.60" cy="293.30" r="2.0" fill="#c8112f"/>
<circle cx="54.30" cy="298.00" r="2.0" fill="#c8112f"/>
<circle cx="57.60" cy="300.40" r="2.0" fill="#c8112f"/>
<circle cx="58.50" cy="308.80" r="2.0" fill="#c8112f"/>
<circle cx="61.80" cy="313.50" r="2.0" fill="#c8112f"/>
<circle cx="66.10" cy="322.90" r="2.0" fill="#c8112f"/>
<circle cx="68.00" cy="325.00" r="2.0" fill="#c8112f"/>
<circle cx="76.90" cy="346.90" r="2.0" fill="#c8112f"/>
<circle cx="78.10" cy="347.60" r="2.0" fill="#c8112f"/>
<circle cx="88.00" cy="362.50" r="2.0" fill="#c8112f"/>
<circle cx="91.90" cy="365.00" r="2.0" fill="#c8112f"/>
<circle cx="92.20" cy="366.00" r="2.0" fill="#c8112f"/>
<circle cx="96.20" cy="368.30" r="2.0" fill="#c8112f"/>
<circle cx="102.00" cy="374.00" r="2.0" fill="#c8112f"/>
<circle cx="106.00" cy="377.00" r="2.0" fill="#c8112f"/>
<circle cx="117.00" cy="387.50" r="2.0" fill="#c8112f"/>
<circle cx="120.90" cy="388.90" r="2.0" fill="#c8112f"/>
<circle cx="125.20" cy="388.90" r="2.0" fill="#c8112f"/>
<circle cx="127.70" cy="388.90" r="2.0" fill="#c8112f"/>
<circle cx="133.20" cy="388.90" r="2.0" fill="#c8112f"/>
<circle cx="136.30" cy="388.90" r="2.0" fill="#c8112f"/>
<circle cx="138.20" cy="388.90" r="2.0" fill="#c8112f"/>
<circle cx="141.20" cy="388.90" r="2.0" fill="#c8112f"/>
<circle cx="141.20" cy="395.70" r="2.0" fill="#c8112f"/>
<circle cx="145.50" cy="395.70" r="2.0" fill="#c8112f"/>
<circle cx="151.10" cy="395.70" r="2.0" fill="#c8112f"/>
<circle cx="182.30" cy="395.70" r="2.0" fill="#c8112f"/>
<circle cx="199.30" cy="395.70" r="2.0" fill="#c8112f"/>
<circle cx="226.30" cy="395.70" r="2.0" fill="#c8112f"/>
<path d="M46.00,281.60 L47.80,281.60 L47.80,283.95 L49.60,283.95 L49.60,286.30 L50.60,297.10 L51.50,301.30 L53.15,301.30 L53.15,303.65 L54.80,303.65 L54.80,306.00 L55.57,306.00 L55.57,308.50 L56.33,308.50 L56.33,311.00 L57.10,311.00 L57.10,313.50 L58.00,315.40 L58.10,322.50 L58.75,328.75 L59.58,328.75 L59.58,330.63 L60.42,330.63 L60.42,332.52 L61.25,332.52 L61.25,334.40 L62.50,334.40 L62.50,336.90 L63.75,336.90 L63.75,339.40 L64.37,339.40 L64.37,341.68 L64.98,341.68 L64.98,343.97 L65.60,343.97 L65.60,346.25 L65.86,346.25 L65.86,348.50 L66.12,348.50 L66.12,350.75 L66.38,350.75 L66.38,353.00 L66.64,353.00 L66.64,355.25 L66.90,355.25 L66.90,357.50 L67.50,358.10 L70.00,358.10 L70.00,358.75 L72.50,358.75 L72.50,359.40 L73.50,370.00 L75.80,370.00 L75.80,370.77 L78.10,370.77 L78.10,371.53 L80.40,371.53 L80.40,372.30 L81.50,375.80 L82.08,375.80 L82.08,377.80 L82.65,377.80 L82.65,379.80 L83.22,379.80 L83.22,381.80 L83.80,381.80 L83.80,383.80 L85.73,383.80 L85.73,385.37 L87.67,385.37 L87.67,386.93 L89.60,386.93 L89.60,388.50 L91.90,388.50 L91.90,389.63 L94.20,389.63 L94.20,390.77 L96.50,390.77 L96.50,391.90 L98.83,391.90 L98.83,393.17 L101.17,393.17 L101.17,394.43 L103.50,394.43 L103.50,395.70 L130.20,395.70 L130.80,397.50 L133.20,398.20 L133.80,401.50 L205.00,401.50" fill="none" stroke="#0b4b89" stroke-width="1.7" stroke-linejoin="miter" stroke-linecap="butt"/>
<circle cx="46.00" cy="281.60" r="2.0" fill="#0b4b89"/>
<circle cx="49.60" cy="286.30" r="2.0" fill="#0b4b89"/>
<circle cx="50.60" cy="297.10" r="2.0" fill="#0b4b89"/>
<circle cx="54.80" cy="306.00" r="2.0" fill="#0b4b89"/>
<circle cx="57.10" cy="313.50" r="2.0" fill="#0b4b89"/>
<circle cx="58.75" cy="328.75" r="2.0" fill="#0b4b89"/>
<circle cx="59.00" cy="330.50" r="2.0" fill="#0b4b89"/>
<circle cx="73.10" cy="370.00" r="2.0" fill="#0b4b89"/>
<circle cx="81.50" cy="375.80" r="2.0" fill="#0b4b89"/>
<circle cx="89.60" cy="388.50" r="2.0" fill="#0b4b89"/>
<circle cx="96.50" cy="391.90" r="2.0" fill="#0b4b89"/>
<circle cx="118.50" cy="395.70" r="2.0" fill="#0b4b89"/>
<circle cx="121.50" cy="395.70" r="2.0" fill="#0b4b89"/>
<circle cx="125.80" cy="395.70" r="2.0" fill="#0b4b89"/>
<circle cx="133.20" cy="398.20" r="2.0" fill="#0b4b89"/>
<circle cx="134.50" cy="401.50" r="2.0" fill="#0b4b89"/>
<circle cx="137.50" cy="401.50" r="2.0" fill="#0b4b89"/>
<circle cx="142.50" cy="401.50" r="2.0" fill="#0b4b89"/>
<circle cx="164.30" cy="401.50" r="2.0" fill="#0b4b89"/>
<circle cx="191.90" cy="401.50" r="2.0" fill="#0b4b89"/>
<circle cx="205.00" cy="401.50" r="2.0" fill="#0b4b89"/>
<path d="M314.00,281.60 L314.70,285.40 L316.10,285.40 L316.10,288.20 L317.00,292.90 L317.50,295.70 L318.90,296.20 L319.40,309.70 L320.30,311.60 L321.70,312.60 L322.70,316.30 L323.17,316.30 L323.17,318.50 L323.63,318.50 L323.63,320.70 L324.10,320.70 L324.10,322.90 L324.60,322.90 L324.60,324.77 L325.10,324.77 L325.10,326.63 L325.60,326.63 L325.60,328.50 L325.86,328.50 L325.86,330.50 L326.12,330.50 L326.12,332.50 L326.38,332.50 L326.38,334.50 L326.64,334.50 L326.64,336.50 L326.90,336.50 L326.90,338.50 L327.50,347.25 L328.75,347.25 L328.75,350.40 L333.10,350.40 L333.75,357.25 L334.00,357.25 L334.00,359.25 L334.25,359.25 L334.25,361.25 L334.50,361.25 L334.50,363.25 L334.75,363.25 L334.75,365.25 L335.00,365.25 L335.00,367.25 L335.60,374.10 L340.60,374.75 L341.01,374.75 L341.01,376.69 L341.43,376.69 L341.43,378.62 L341.84,378.62 L341.84,380.56 L342.25,380.56 L342.25,382.50 L344.53,382.50 L344.53,383.33 L346.82,383.33 L346.82,384.17 L349.10,384.17 L349.10,385.00 L350.68,385.00 L350.68,386.88 L352.25,386.88 L352.25,388.75 L356.00,389.40 L356.42,389.40 L356.42,391.27 L356.83,391.27 L356.83,393.13 L357.25,393.13 L357.25,395.00 L359.43,395.00 L359.43,395.95 L361.60,395.95 L361.60,396.90 L364.75,396.90 L364.75,398.75 L365.38,398.75 L365.38,400.62 L366.00,400.62 L366.00,402.50 L368.50,402.50 L368.50,403.75 L371.00,403.75 L371.00,405.00 L376.00,406.00 L376.95,406.00 L376.95,407.80 L377.90,407.80 L377.90,409.60 L386.00,409.60 L387.90,409.60 L387.90,411.90 L439.10,411.90 L439.10,434.40" fill="none" stroke="#c8112f" stroke-width="1.7" stroke-linejoin="miter" stroke-linecap="butt"/>
<circle cx="314.00" cy="281.60" r="2.0" fill="#c8112f"/>
<circle cx="317.50" cy="295.70" r="2.0" fill="#c8112f"/>
<circle cx="320.30" cy="311.60" r="2.0" fill="#c8112f"/>
<circle cx="327.50" cy="347.25" r="2.0" fill="#c8112f"/>
<circle cx="364.75" cy="398.75" r="2.0" fill="#c8112f"/>
<circle cx="371.00" cy="405.00" r="2.0" fill="#c8112f"/>
<circle cx="372.30" cy="405.50" r="2.0" fill="#c8112f"/>
<circle cx="386.00" cy="409.60" r="2.0" fill="#c8112f"/>
<circle cx="389.75" cy="411.90" r="2.0" fill="#c8112f"/>
<circle cx="401.60" cy="411.90" r="2.0" fill="#c8112f"/>
<circle cx="404.10" cy="411.90" r="2.0" fill="#c8112f"/>
<circle cx="413.50" cy="411.90" r="2.0" fill="#c8112f"/>
<circle cx="435.60" cy="411.90" r="2.0" fill="#c8112f"/>
<path d="M314.00,280.20 L315.20,288.20 L315.48,288.20 L315.48,290.44 L315.76,290.44 L315.76,292.68 L316.04,292.68 L316.04,294.92 L316.32,294.92 L316.32,297.16 L316.60,297.16 L316.60,299.40 L317.50,310.70 L318.40,315.40 L319.00,322.25 L319.00,348.50 L320.00,354.75 L320.63,354.75 L320.63,356.83 L321.27,356.83 L321.27,358.92 L321.90,358.92 L321.90,361.00 L322.73,361.00 L322.73,363.08 L323.57,363.08 L323.57,365.17 L324.40,365.17 L324.40,367.25 L324.75,370.00 L325.37,370.00 L325.37,372.08 L325.98,372.08 L325.98,374.17 L326.60,374.17 L326.60,376.25 L327.25,390.00 L329.75,390.00 L329.75,391.25 L331.00,391.25 L331.00,393.10 L332.55,393.10 L332.55,395.30 L334.10,395.30 L334.10,397.50 L334.75,406.25 L337.90,406.90 L341.00,406.90 L341.00,410.00 L344.10,410.00 L344.10,412.50 L350.40,412.50 L353.50,412.50 L353.50,415.00 L355.70,415.00 L355.70,416.88 L357.90,416.88 L357.90,418.75 L372.90,418.75 L374.10,418.75 L374.10,420.60 L446.50,420.60" fill="none" stroke="#0b4b89" stroke-width="1.7" stroke-linejoin="miter" stroke-linecap="butt"/>
<circle cx="314.00" cy="280.20" r="2.0" fill="#0b4b89"/>
<circle cx="317.50" cy="310.70" r="2.0" fill="#0b4b89"/>
<circle cx="331.00" cy="393.10" r="2.0" fill="#0b4b89"/>
<circle cx="334.10" cy="397.50" r="2.0" fill="#0b4b89"/>
<circle cx="344.10" cy="412.50" r="2.0" fill="#0b4b89"/>
<circle cx="350.40" cy="412.50" r="2.0" fill="#0b4b89"/>
<circle cx="387.25" cy="420.60" r="2.0" fill="#0b4b89"/>
<circle cx="401.60" cy="420.60" r="2.0" fill="#0b4b89"/>
<circle cx="406.00" cy="420.60" r="2.0" fill="#0b4b89"/>
<circle cx="414.75" cy="420.60" r="2.0" fill="#0b4b89"/>
<circle cx="427.75" cy="420.60" r="2.0" fill="#0b4b89"/>
<circle cx="446.50" cy="420.60" r="2.0" fill="#0b4b89"/>
<circle cx="46.00" cy="28.60" r="2.0" fill="#c8112f"/>
<circle cx="48.30" cy="28.90" r="2.0" fill="#c8112f"/>
<circle cx="50.60" cy="29.30" r="2.0" fill="#c8112f"/>
<circle cx="55.90" cy="32.30" r="2.0" fill="#c8112f"/>
<circle cx="314.20" cy="28.90" r="2.0" fill="#c8112f"/>
<text x="6.90" y="218.10" font-size="7.6" font-weight="normal" fill="#333" text-anchor="start" stroke="#333" stroke-width="0.1" textLength="33.50" lengthAdjust="spacingAndGlyphs">Pts at risk:</text>
<line x1="6.9" y1="219.10" x2="38.90" y2="219.10" stroke="#444" stroke-width="0.7"/>
<text x="7.10" y="227.70" font-size="8.1" font-weight="normal" fill="#c8112f" text-anchor="start" stroke="#c8112f" stroke-width="0.1" textLength="30.90" lengthAdjust="spacingAndGlyphs">Oral-AZA</text>
<text x="7.10" y="237.70" font-size="8.1" font-weight="normal" fill="#3f78b3" text-anchor="start" stroke="#3f78b3" stroke-width="0.1" textLength="26.20" lengthAdjust="spacingAndGlyphs">Placebo</text>
<text x="46.20" y="227.60" font-size="8.1" font-weight="normal" fill="#222" text-anchor="middle" stroke="#222" stroke-width="0.06" textLength="11.70" lengthAdjust="spacingAndGlyphs">133</text>
<text x="61.24" y="227.60" font-size="8.1" font-weight="normal" fill="#222" text-anchor="middle" stroke="#222" stroke-width="0.06" textLength="11.70" lengthAdjust="spacingAndGlyphs">123</text>
<text x="76.28" y="227.60" font-size="8.1" font-weight="normal" fill="#222" text-anchor="middle" stroke="#222" stroke-width="0.06" textLength="11.70" lengthAdjust="spacingAndGlyphs">106</text>
<text x="91.62" y="227.60" font-size="8.1" font-weight="normal" fill="#222" text-anchor="middle" stroke="#222" stroke-width="0.06" textLength="7.80" lengthAdjust="spacingAndGlyphs">87</text>
<text x="106.65" y="227.60" font-size="8.1" font-weight="normal" fill="#222" text-anchor="middle" stroke="#222" stroke-width="0.06" textLength="7.80" lengthAdjust="spacingAndGlyphs">74</text>
<text x="121.69" y="227.60" font-size="8.1" font-weight="normal" fill="#222" text-anchor="middle" stroke="#222" stroke-width="0.06" textLength="7.80" lengthAdjust="spacingAndGlyphs">54</text>
<text x="136.73" y="227.60" font-size="8.1" font-weight="normal" fill="#222" text-anchor="middle" stroke="#222" stroke-width="0.06" textLength="7.80" lengthAdjust="spacingAndGlyphs">39</text>
<text x="151.77" y="227.60" font-size="8.1" font-weight="normal" fill="#222" text-anchor="middle" stroke="#222" stroke-width="0.06" textLength="7.80" lengthAdjust="spacingAndGlyphs">28</text>
<text x="166.81" y="227.60" font-size="8.1" font-weight="normal" fill="#222" text-anchor="middle" stroke="#222" stroke-width="0.06" textLength="7.80" lengthAdjust="spacingAndGlyphs">19</text>
<text x="181.85" y="227.60" font-size="8.1" font-weight="normal" fill="#222" text-anchor="middle" stroke="#222" stroke-width="0.06" textLength="7.80" lengthAdjust="spacingAndGlyphs">14</text>
<text x="196.88" y="227.60" font-size="8.1" font-weight="normal" fill="#222" text-anchor="middle" stroke="#222" stroke-width="0.06" textLength="7.80" lengthAdjust="spacingAndGlyphs">11</text>
<text x="211.62" y="227.60" font-size="8.1" font-weight="normal" fill="#222" text-anchor="middle" stroke="#222" stroke-width="0.06" textLength="3.90" lengthAdjust="spacingAndGlyphs">3</text>
<text x="226.66" y="227.60" font-size="8.1" font-weight="normal" fill="#222" text-anchor="middle" stroke="#222" stroke-width="0.06" textLength="3.90" lengthAdjust="spacingAndGlyphs">1</text>
<text x="241.70" y="227.60" font-size="8.1" font-weight="normal" fill="#222" text-anchor="middle" stroke="#222" stroke-width="0.06" textLength="3.90" lengthAdjust="spacingAndGlyphs">0</text>
<text x="46.20" y="237.80" font-size="8.1" font-weight="normal" fill="#222" text-anchor="middle" stroke="#222" stroke-width="0.06" textLength="11.70" lengthAdjust="spacingAndGlyphs">111</text>
<text x="61.54" y="237.80" font-size="8.1" font-weight="normal" fill="#222" text-anchor="middle" stroke="#222" stroke-width="0.06" textLength="7.80" lengthAdjust="spacingAndGlyphs">97</text>
<text x="76.58" y="237.80" font-size="8.1" font-weight="normal" fill="#222" text-anchor="middle" stroke="#222" stroke-width="0.06" textLength="7.80" lengthAdjust="spacingAndGlyphs">77</text>
<text x="91.62" y="237.80" font-size="8.1" font-weight="normal" fill="#222" text-anchor="middle" stroke="#222" stroke-width="0.06" textLength="7.80" lengthAdjust="spacingAndGlyphs">62</text>
<text x="106.65" y="237.80" font-size="8.1" font-weight="normal" fill="#222" text-anchor="middle" stroke="#222" stroke-width="0.06" textLength="7.80" lengthAdjust="spacingAndGlyphs">55</text>
<text x="121.69" y="237.80" font-size="8.1" font-weight="normal" fill="#222" text-anchor="middle" stroke="#222" stroke-width="0.06" textLength="7.80" lengthAdjust="spacingAndGlyphs">37</text>
<text x="136.73" y="237.80" font-size="8.1" font-weight="normal" fill="#222" text-anchor="middle" stroke="#222" stroke-width="0.06" textLength="7.80" lengthAdjust="spacingAndGlyphs">20</text>
<text x="151.77" y="237.80" font-size="8.1" font-weight="normal" fill="#222" text-anchor="middle" stroke="#222" stroke-width="0.06" textLength="7.80" lengthAdjust="spacingAndGlyphs">16</text>
<text x="166.81" y="237.80" font-size="8.1" font-weight="normal" fill="#222" text-anchor="middle" stroke="#222" stroke-width="0.06" textLength="7.80" lengthAdjust="spacingAndGlyphs">12</text>
<text x="181.85" y="237.80" font-size="8.1" font-weight="normal" fill="#222" text-anchor="middle" stroke="#222" stroke-width="0.06" textLength="7.80" lengthAdjust="spacingAndGlyphs">10</text>
<text x="196.58" y="237.80" font-size="8.1" font-weight="normal" fill="#222" text-anchor="middle" stroke="#222" stroke-width="0.06" textLength="3.90" lengthAdjust="spacingAndGlyphs">8</text>
<text x="211.62" y="237.80" font-size="8.1" font-weight="normal" fill="#222" text-anchor="middle" stroke="#222" stroke-width="0.06" textLength="3.90" lengthAdjust="spacingAndGlyphs">5</text>
<text x="226.66" y="237.80" font-size="8.1" font-weight="normal" fill="#222" text-anchor="middle" stroke="#222" stroke-width="0.06" textLength="3.90" lengthAdjust="spacingAndGlyphs">1</text>
<text x="241.70" y="237.80" font-size="8.1" font-weight="normal" fill="#222" text-anchor="middle" stroke="#222" stroke-width="0.06" textLength="3.90" lengthAdjust="spacingAndGlyphs">0</text>
<text x="274.90" y="218.30" font-size="7.6" font-weight="normal" fill="#333" text-anchor="start" stroke="#333" stroke-width="0.1" textLength="33.50" lengthAdjust="spacingAndGlyphs">Pts at risk:</text>
<line x1="274.9" y1="219.30" x2="306.90" y2="219.30" stroke="#444" stroke-width="0.7"/>
<text x="275.10" y="227.80" font-size="8.1" font-weight="normal" fill="#c8112f" text-anchor="start" stroke="#c8112f" stroke-width="0.1" textLength="30.90" lengthAdjust="spacingAndGlyphs">Oral-AZA</text>
<text x="275.10" y="237.60" font-size="8.1" font-weight="normal" fill="#3f78b3" text-anchor="start" stroke="#3f78b3" stroke-width="0.1" textLength="26.20" lengthAdjust="spacingAndGlyphs">Placebo</text>
<text x="314.10" y="227.60" font-size="8.1" font-weight="normal" fill="#222" text-anchor="middle" stroke="#222" stroke-width="0.06" textLength="11.70" lengthAdjust="spacingAndGlyphs">103</text>
<text x="329.47" y="227.60" font-size="8.1" font-weight="normal" fill="#222" text-anchor="middle" stroke="#222" stroke-width="0.06" textLength="7.80" lengthAdjust="spacingAndGlyphs">88</text>
<text x="344.54" y="227.60" font-size="8.1" font-weight="normal" fill="#222" text-anchor="middle" stroke="#222" stroke-width="0.06" textLength="7.80" lengthAdjust="spacingAndGlyphs">60</text>
<text x="359.61" y="227.60" font-size="8.1" font-weight="normal" fill="#222" text-anchor="middle" stroke="#222" stroke-width="0.06" textLength="7.80" lengthAdjust="spacingAndGlyphs">44</text>
<text x="374.68" y="227.60" font-size="8.1" font-weight="normal" fill="#222" text-anchor="middle" stroke="#222" stroke-width="0.06" textLength="7.80" lengthAdjust="spacingAndGlyphs">39</text>
<text x="389.75" y="227.60" font-size="8.1" font-weight="normal" fill="#222" text-anchor="middle" stroke="#222" stroke-width="0.06" textLength="7.80" lengthAdjust="spacingAndGlyphs">31</text>
<text x="404.82" y="227.60" font-size="8.1" font-weight="normal" fill="#222" text-anchor="middle" stroke="#222" stroke-width="0.06" textLength="7.80" lengthAdjust="spacingAndGlyphs">19</text>
<text x="419.58" y="227.60" font-size="8.1" font-weight="normal" fill="#222" text-anchor="middle" stroke="#222" stroke-width="0.06" textLength="3.90" lengthAdjust="spacingAndGlyphs">8</text>
<text x="434.65" y="227.60" font-size="8.1" font-weight="normal" fill="#222" text-anchor="middle" stroke="#222" stroke-width="0.06" textLength="3.90" lengthAdjust="spacingAndGlyphs">6</text>
<text x="449.72" y="227.60" font-size="8.1" font-weight="normal" fill="#222" text-anchor="middle" stroke="#222" stroke-width="0.06" textLength="3.90" lengthAdjust="spacingAndGlyphs">3</text>
<text x="464.79" y="227.60" font-size="8.1" font-weight="normal" fill="#222" text-anchor="middle" stroke="#222" stroke-width="0.06" textLength="3.90" lengthAdjust="spacingAndGlyphs">3</text>
<text x="479.86" y="227.60" font-size="8.1" font-weight="normal" fill="#222" text-anchor="middle" stroke="#222" stroke-width="0.06" textLength="3.90" lengthAdjust="spacingAndGlyphs">2</text>
<text x="494.93" y="227.60" font-size="8.1" font-weight="normal" fill="#222" text-anchor="middle" stroke="#222" stroke-width="0.06" textLength="3.90" lengthAdjust="spacingAndGlyphs">0</text>
<text x="314.10" y="237.80" font-size="8.1" font-weight="normal" fill="#222" text-anchor="middle" stroke="#222" stroke-width="0.06" textLength="11.70" lengthAdjust="spacingAndGlyphs">116</text>
<text x="329.47" y="237.80" font-size="8.1" font-weight="normal" fill="#222" text-anchor="middle" stroke="#222" stroke-width="0.06" textLength="7.80" lengthAdjust="spacingAndGlyphs">82</text>
<text x="344.54" y="237.80" font-size="8.1" font-weight="normal" fill="#222" text-anchor="middle" stroke="#222" stroke-width="0.06" textLength="7.80" lengthAdjust="spacingAndGlyphs">46</text>
<text x="359.61" y="237.80" font-size="8.1" font-weight="normal" fill="#222" text-anchor="middle" stroke="#222" stroke-width="0.06" textLength="7.80" lengthAdjust="spacingAndGlyphs">31</text>
<text x="374.68" y="237.80" font-size="8.1" font-weight="normal" fill="#222" text-anchor="middle" stroke="#222" stroke-width="0.06" textLength="7.80" lengthAdjust="spacingAndGlyphs">24</text>
<text x="389.75" y="237.80" font-size="8.1" font-weight="normal" fill="#222" text-anchor="middle" stroke="#222" stroke-width="0.06" textLength="7.80" lengthAdjust="spacingAndGlyphs">20</text>
<text x="404.82" y="237.80" font-size="8.1" font-weight="normal" fill="#222" text-anchor="middle" stroke="#222" stroke-width="0.06" textLength="7.80" lengthAdjust="spacingAndGlyphs">13</text>
<text x="419.88" y="237.80" font-size="8.1" font-weight="normal" fill="#222" text-anchor="middle" stroke="#222" stroke-width="0.06" textLength="7.80" lengthAdjust="spacingAndGlyphs">11</text>
<text x="434.65" y="237.80" font-size="8.1" font-weight="normal" fill="#222" text-anchor="middle" stroke="#222" stroke-width="0.06" textLength="3.90" lengthAdjust="spacingAndGlyphs">7</text>
<text x="449.72" y="237.80" font-size="8.1" font-weight="normal" fill="#222" text-anchor="middle" stroke="#222" stroke-width="0.06" textLength="3.90" lengthAdjust="spacingAndGlyphs">4</text>
<text x="464.79" y="237.80" font-size="8.1" font-weight="normal" fill="#222" text-anchor="middle" stroke="#222" stroke-width="0.06" textLength="3.90" lengthAdjust="spacingAndGlyphs">3</text>
<text x="479.86" y="237.80" font-size="8.1" font-weight="normal" fill="#222" text-anchor="middle" stroke="#222" stroke-width="0.06" textLength="3.90" lengthAdjust="spacingAndGlyphs">1</text>
<text x="494.93" y="237.80" font-size="8.1" font-weight="normal" fill="#222" text-anchor="middle" stroke="#222" stroke-width="0.06" textLength="3.90" lengthAdjust="spacingAndGlyphs">0</text>
<text x="4.70" y="471.30" font-size="7.6" font-weight="normal" fill="#333" text-anchor="start" stroke="#333" stroke-width="0.1" textLength="33.50" lengthAdjust="spacingAndGlyphs">Pts at risk:</text>
<line x1="4.7" y1="472.30" x2="36.70" y2="472.30" stroke="#444" stroke-width="0.7"/>
<text x="4.90" y="480.30" font-size="8.1" font-weight="normal" fill="#c8112f" text-anchor="start" stroke="#c8112f" stroke-width="0.1" textLength="30.90" lengthAdjust="spacingAndGlyphs">Oral-AZA</text>
<text x="4.90" y="490.80" font-size="8.1" font-weight="normal" fill="#3f78b3" text-anchor="start" stroke="#3f78b3" stroke-width="0.1" textLength="26.20" lengthAdjust="spacingAndGlyphs">Placebo</text>
<text x="46.20" y="480.40" font-size="8.1" font-weight="normal" fill="#222" text-anchor="middle" stroke="#222" stroke-width="0.06" textLength="11.70" lengthAdjust="spacingAndGlyphs">133</text>
<text x="62.80" y="480.40" font-size="8.1" font-weight="normal" fill="#222" text-anchor="middle" stroke="#222" stroke-width="0.06" textLength="7.80" lengthAdjust="spacingAndGlyphs">90</text>
<text x="79.10" y="480.40" font-size="8.1" font-weight="normal" fill="#222" text-anchor="middle" stroke="#222" stroke-width="0.06" textLength="7.80" lengthAdjust="spacingAndGlyphs">61</text>
<text x="95.40" y="480.40" font-size="8.1" font-weight="normal" fill="#222" text-anchor="middle" stroke="#222" stroke-width="0.06" textLength="7.80" lengthAdjust="spacingAndGlyphs">45</text>
<text x="111.70" y="480.40" font-size="8.1" font-weight="normal" fill="#222" text-anchor="middle" stroke="#222" stroke-width="0.06" textLength="7.80" lengthAdjust="spacingAndGlyphs">34</text>
<text x="128.00" y="480.40" font-size="8.1" font-weight="normal" fill="#222" text-anchor="middle" stroke="#222" stroke-width="0.06" textLength="7.80" lengthAdjust="spacingAndGlyphs">21</text>
<text x="144.00" y="480.40" font-size="8.1" font-weight="normal" fill="#222" text-anchor="middle" stroke="#222" stroke-width="0.06" textLength="3.90" lengthAdjust="spacingAndGlyphs">5</text>
<text x="160.30" y="480.40" font-size="8.1" font-weight="normal" fill="#222" text-anchor="middle" stroke="#222" stroke-width="0.06" textLength="3.90" lengthAdjust="spacingAndGlyphs">3</text>
<text x="176.60" y="480.40" font-size="8.1" font-weight="normal" fill="#222" text-anchor="middle" stroke="#222" stroke-width="0.06" textLength="3.90" lengthAdjust="spacingAndGlyphs">3</text>
<text x="192.90" y="480.40" font-size="8.1" font-weight="normal" fill="#222" text-anchor="middle" stroke="#222" stroke-width="0.06" textLength="3.90" lengthAdjust="spacingAndGlyphs">2</text>
<text x="209.20" y="480.40" font-size="8.1" font-weight="normal" fill="#222" text-anchor="middle" stroke="#222" stroke-width="0.06" textLength="3.90" lengthAdjust="spacingAndGlyphs">1</text>
<text x="225.50" y="480.40" font-size="8.1" font-weight="normal" fill="#222" text-anchor="middle" stroke="#222" stroke-width="0.06" textLength="3.90" lengthAdjust="spacingAndGlyphs">1</text>
<text x="241.80" y="480.40" font-size="8.1" font-weight="normal" fill="#222" text-anchor="middle" stroke="#222" stroke-width="0.06" textLength="3.90" lengthAdjust="spacingAndGlyphs">0</text>
<text x="46.20" y="491.20" font-size="8.1" font-weight="normal" fill="#222" text-anchor="middle" stroke="#222" stroke-width="0.06" textLength="11.70" lengthAdjust="spacingAndGlyphs">111</text>
<text x="62.80" y="491.20" font-size="8.1" font-weight="normal" fill="#222" text-anchor="middle" stroke="#222" stroke-width="0.06" textLength="7.80" lengthAdjust="spacingAndGlyphs">62</text>
<text x="79.10" y="491.20" font-size="8.1" font-weight="normal" fill="#222" text-anchor="middle" stroke="#222" stroke-width="0.06" textLength="7.80" lengthAdjust="spacingAndGlyphs">39</text>
<text x="95.40" y="491.20" font-size="8.1" font-weight="normal" fill="#222" text-anchor="middle" stroke="#222" stroke-width="0.06" textLength="7.80" lengthAdjust="spacingAndGlyphs">26</text>
<text x="111.70" y="491.20" font-size="8.1" font-weight="normal" fill="#222" text-anchor="middle" stroke="#222" stroke-width="0.06" textLength="7.80" lengthAdjust="spacingAndGlyphs">20</text>
<text x="128.00" y="491.20" font-size="8.1" font-weight="normal" fill="#222" text-anchor="middle" stroke="#222" stroke-width="0.06" textLength="7.80" lengthAdjust="spacingAndGlyphs">15</text>
<text x="144.00" y="491.20" font-size="8.1" font-weight="normal" fill="#222" text-anchor="middle" stroke="#222" stroke-width="0.06" textLength="3.90" lengthAdjust="spacingAndGlyphs">3</text>
<text x="160.30" y="491.20" font-size="8.1" font-weight="normal" fill="#222" text-anchor="middle" stroke="#222" stroke-width="0.06" textLength="3.90" lengthAdjust="spacingAndGlyphs">3</text>
<text x="176.60" y="491.20" font-size="8.1" font-weight="normal" fill="#222" text-anchor="middle" stroke="#222" stroke-width="0.06" textLength="3.90" lengthAdjust="spacingAndGlyphs">2</text>
<text x="192.90" y="491.20" font-size="8.1" font-weight="normal" fill="#222" text-anchor="middle" stroke="#222" stroke-width="0.06" textLength="3.90" lengthAdjust="spacingAndGlyphs">1</text>
<text x="209.20" y="491.20" font-size="8.1" font-weight="normal" fill="#222" text-anchor="middle" stroke="#222" stroke-width="0.06" textLength="3.90" lengthAdjust="spacingAndGlyphs">0</text>
<text x="275.60" y="471.30" font-size="7.6" font-weight="normal" fill="#333" text-anchor="start" stroke="#333" stroke-width="0.1" textLength="33.50" lengthAdjust="spacingAndGlyphs">Pts at risk:</text>
<line x1="275.6" y1="472.30" x2="307.60" y2="472.30" stroke="#444" stroke-width="0.7"/>
<text x="275.80" y="480.30" font-size="8.1" font-weight="normal" fill="#c8112f" text-anchor="start" stroke="#c8112f" stroke-width="0.1" textLength="30.90" lengthAdjust="spacingAndGlyphs">Oral-AZA</text>
<text x="275.80" y="490.80" font-size="8.1" font-weight="normal" fill="#3f78b3" text-anchor="start" stroke="#3f78b3" stroke-width="0.1" textLength="26.20" lengthAdjust="spacingAndGlyphs">Placebo</text>
<text x="314.20" y="480.40" font-size="8.1" font-weight="normal" fill="#222" text-anchor="middle" stroke="#222" stroke-width="0.06" textLength="11.70" lengthAdjust="spacingAndGlyphs">103</text>
<text x="330.83" y="480.40" font-size="8.1" font-weight="normal" fill="#222" text-anchor="middle" stroke="#222" stroke-width="0.06" textLength="7.80" lengthAdjust="spacingAndGlyphs">52</text>
<text x="347.17" y="480.40" font-size="8.1" font-weight="normal" fill="#222" text-anchor="middle" stroke="#222" stroke-width="0.06" textLength="7.80" lengthAdjust="spacingAndGlyphs">31</text>
<text x="363.50" y="480.40" font-size="8.1" font-weight="normal" fill="#222" text-anchor="middle" stroke="#222" stroke-width="0.06" textLength="7.80" lengthAdjust="spacingAndGlyphs">23</text>
<text x="379.83" y="480.40" font-size="8.1" font-weight="normal" fill="#222" text-anchor="middle" stroke="#222" stroke-width="0.06" textLength="7.80" lengthAdjust="spacingAndGlyphs">13</text>
<text x="395.87" y="480.40" font-size="8.1" font-weight="normal" fill="#222" text-anchor="middle" stroke="#222" stroke-width="0.06" textLength="3.90" lengthAdjust="spacingAndGlyphs">9</text>
<text x="412.20" y="480.40" font-size="8.1" font-weight="normal" fill="#222" text-anchor="middle" stroke="#222" stroke-width="0.06" textLength="3.90" lengthAdjust="spacingAndGlyphs">3</text>
<text x="428.53" y="480.40" font-size="8.1" font-weight="normal" fill="#222" text-anchor="middle" stroke="#222" stroke-width="0.06" textLength="3.90" lengthAdjust="spacingAndGlyphs">2</text>
<text x="444.87" y="480.40" font-size="8.1" font-weight="normal" fill="#222" text-anchor="middle" stroke="#222" stroke-width="0.06" textLength="3.90" lengthAdjust="spacingAndGlyphs">0</text>
<text x="314.20" y="491.20" font-size="8.1" font-weight="normal" fill="#222" text-anchor="middle" stroke="#222" stroke-width="0.06" textLength="11.70" lengthAdjust="spacingAndGlyphs">116</text>
<text x="330.83" y="491.20" font-size="8.1" font-weight="normal" fill="#222" text-anchor="middle" stroke="#222" stroke-width="0.06" textLength="7.80" lengthAdjust="spacingAndGlyphs">32</text>
<text x="347.17" y="491.20" font-size="8.1" font-weight="normal" fill="#222" text-anchor="middle" stroke="#222" stroke-width="0.06" textLength="7.80" lengthAdjust="spacingAndGlyphs">14</text>
<text x="363.20" y="491.20" font-size="8.1" font-weight="normal" fill="#222" text-anchor="middle" stroke="#222" stroke-width="0.06" textLength="3.90" lengthAdjust="spacingAndGlyphs">9</text>
<text x="379.53" y="491.20" font-size="8.1" font-weight="normal" fill="#222" text-anchor="middle" stroke="#222" stroke-width="0.06" textLength="3.90" lengthAdjust="spacingAndGlyphs">8</text>
<text x="395.87" y="491.20" font-size="8.1" font-weight="normal" fill="#222" text-anchor="middle" stroke="#222" stroke-width="0.06" textLength="3.90" lengthAdjust="spacingAndGlyphs">7</text>
<text x="412.20" y="491.20" font-size="8.1" font-weight="normal" fill="#222" text-anchor="middle" stroke="#222" stroke-width="0.06" textLength="3.90" lengthAdjust="spacingAndGlyphs">3</text>
<text x="428.53" y="491.20" font-size="8.1" font-weight="normal" fill="#222" text-anchor="middle" stroke="#222" stroke-width="0.06" textLength="3.90" lengthAdjust="spacingAndGlyphs">1</text>
<text x="444.87" y="491.20" font-size="8.1" font-weight="normal" fill="#222" text-anchor="middle" stroke="#222" stroke-width="0.06" textLength="3.90" lengthAdjust="spacingAndGlyphs">1</text>
<text x="461.20" y="491.20" font-size="8.1" font-weight="normal" fill="#222" text-anchor="middle" stroke="#222" stroke-width="0.06" textLength="3.90" lengthAdjust="spacingAndGlyphs">0</text>
<text x="4.10" y="504.60" font-size="6.6" font-weight="normal" fill="#222" text-anchor="start" stroke="#222" stroke-width="0.08" textLength="344.40" lengthAdjust="spacingAndGlyphs">AZA, azacitidine; CI, confidence interval; HR, hazard ratio; MRD, measurable residual disease; No., number; pts, patients.</text>
<rect x="0" y="0" width="520" height="1.1" fill="#000"/>
<rect x="0" y="0" width="1.2" height="512" fill="#000"/>
<rect x="518.7" y="0" width="1.3" height="512" fill="#000"/>
<rect x="0" y="510.7" width="520" height="1.3" fill="#000"/>
</svg></body></html>
